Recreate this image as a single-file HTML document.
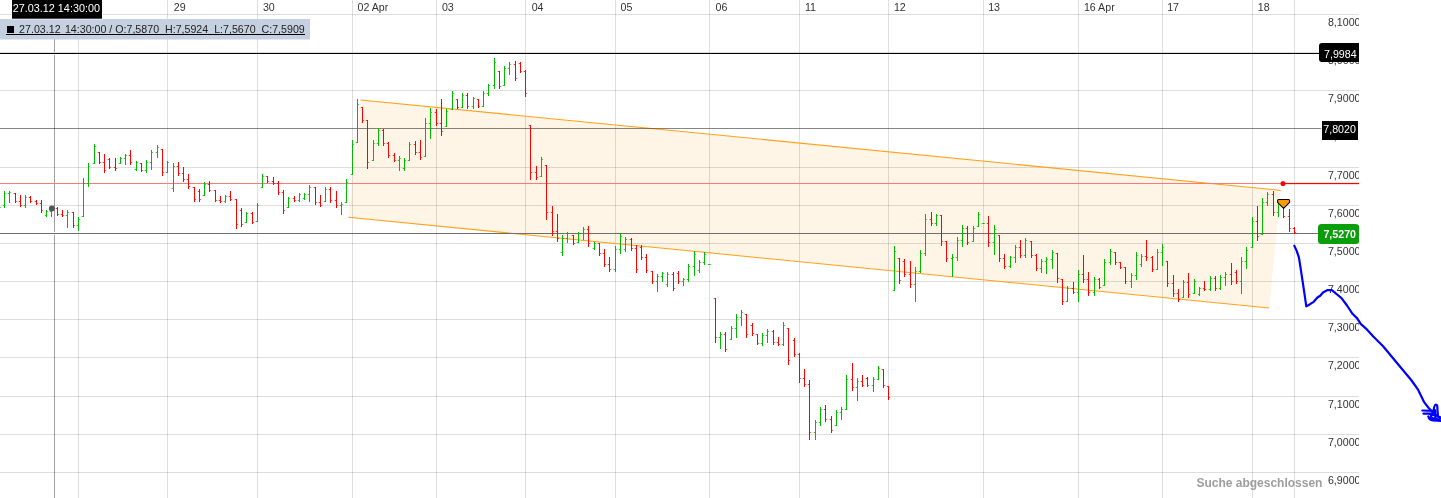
<!DOCTYPE html>
<html><head><meta charset="utf-8"><title>Chart</title>
<style>html,body{margin:0;padding:0;background:#fff;overflow:hidden}svg{display:block;will-change:transform}text{font-family:"Liberation Sans",sans-serif}</style></head><body>
<svg width="1441" height="498" viewBox="0 0 1441 498">
<rect width="1441" height="498" fill="#fff"/>
<defs><clipPath id="c"><rect x="0" y="0" width="1359" height="498"/></clipPath></defs>
<g clip-path="url(#c)">
<polygon points="360.5,99.9 1280.8,190.4 1269.3,308.0 348.4,217.2" fill="#fff5e6"/>
<g shape-rendering="crispEdges" fill="#000" fill-opacity="0.13">
<rect x="0" y="14" width="1359" height="1"/>
<rect x="0" y="52" width="1359" height="1"/>
<rect x="0" y="90" width="1359" height="1"/>
<rect x="0" y="128" width="1359" height="1"/>
<rect x="0" y="167" width="1359" height="1"/>
<rect x="0" y="205" width="1359" height="1"/>
<rect x="0" y="243" width="1359" height="1"/>
<rect x="0" y="281" width="1359" height="1"/>
<rect x="0" y="319" width="1359" height="1"/>
<rect x="0" y="357" width="1359" height="1"/>
<rect x="0" y="396" width="1359" height="1"/>
<rect x="0" y="434" width="1359" height="1"/>
<rect x="0" y="472" width="1359" height="1"/>
<rect x="78" y="0" width="1" height="498"/>
<rect x="167" y="0" width="1" height="498"/>
<rect x="257" y="0" width="1" height="498"/>
<rect x="352" y="0" width="1" height="498"/>
<rect x="436" y="0" width="1" height="498"/>
<rect x="525" y="0" width="1" height="498"/>
<rect x="615" y="0" width="1" height="498"/>
<rect x="709" y="0" width="1" height="498"/>
<rect x="799" y="0" width="1" height="498"/>
<rect x="888" y="0" width="1" height="498"/>
<rect x="983" y="0" width="1" height="498"/>
<rect x="1078" y="0" width="1" height="498"/>
<rect x="1162" y="0" width="1" height="498"/>
<rect x="1252" y="0" width="1" height="498"/>
<rect x="1294" y="0" width="1" height="498"/>
</g>
<line x1="360.5" y1="99.9" x2="1280.8" y2="190.4" stroke="#ffa01a" stroke-width="1.05"/>
<line x1="348.4" y1="217.2" x2="1269.3" y2="308.0" stroke="#ffa01a" stroke-width="1.05"/>
<rect x="54" y="0" width="1" height="52" fill="#000" fill-opacity="0.37" shape-rendering="crispEdges"/>
<rect x="54" y="55" width="1" height="177" fill="#000" fill-opacity="0.37" shape-rendering="crispEdges"/>
<rect x="54" y="235" width="1" height="263" fill="#000" fill-opacity="0.37" shape-rendering="crispEdges"/>
<rect x="0" y="53" width="1320" height="1" fill="#000" shape-rendering="crispEdges"/>
<rect x="0" y="128" width="1321" height="1" fill="#000" fill-opacity="0.4" shape-rendering="crispEdges"/>
<rect x="0" y="183" width="1283" height="1" fill="#ff7878" shape-rendering="crispEdges"/>
<rect x="1283" y="182.9" width="80" height="1.25" fill="#ff0000"/>
<rect x="0" y="233" width="1319" height="1" fill="#6e6e6e" shape-rendering="crispEdges"/>
<g shape-rendering="crispEdges">
<rect x="0" y="207" width="1" height="1" fill="#00ba00" fill-opacity="0.7"/>
<rect x="4" y="191" width="1" height="17" fill="#00ba00"/>
<rect x="3" y="205" width="1" height="1" fill="#00ba00" fill-opacity="0.8"/>
<rect x="2" y="205" width="1" height="1" fill="#00ba00" fill-opacity="0.22"/>
<rect x="5" y="193" width="1" height="1" fill="#00ba00" fill-opacity="0.65"/>
<rect x="6" y="193" width="1" height="1" fill="#00ba00" fill-opacity="0.1"/>
<rect x="9" y="191" width="1" height="12" fill="#00ba00"/>
<rect x="8" y="193" width="1" height="1" fill="#00ba00" fill-opacity="0.8"/>
<rect x="7" y="193" width="1" height="1" fill="#00ba00" fill-opacity="0.22"/>
<rect x="10" y="192" width="1" height="1" fill="#00ba00" fill-opacity="0.65"/>
<rect x="11" y="192" width="1" height="1" fill="#00ba00" fill-opacity="0.1"/>
<rect x="15" y="193" width="1" height="10" fill="#ff0000"/>
<rect x="14" y="193" width="1" height="1" fill="#ff0000" fill-opacity="0.8"/>
<rect x="13" y="193" width="1" height="1" fill="#ff0000" fill-opacity="0.22"/>
<rect x="16" y="201" width="1" height="1" fill="#ff0000" fill-opacity="0.65"/>
<rect x="17" y="201" width="1" height="1" fill="#ff0000" fill-opacity="0.1"/>
<rect x="20" y="195" width="1" height="12" fill="#ff0000"/>
<rect x="19" y="201" width="1" height="1" fill="#ff0000" fill-opacity="0.8"/>
<rect x="18" y="201" width="1" height="1" fill="#ff0000" fill-opacity="0.22"/>
<rect x="21" y="205" width="1" height="1" fill="#ff0000" fill-opacity="0.65"/>
<rect x="22" y="205" width="1" height="1" fill="#ff0000" fill-opacity="0.1"/>
<rect x="25" y="195" width="1" height="13" fill="#00ba00"/>
<rect x="24" y="205" width="1" height="1" fill="#00ba00" fill-opacity="0.8"/>
<rect x="23" y="205" width="1" height="1" fill="#00ba00" fill-opacity="0.22"/>
<rect x="26" y="197" width="1" height="1" fill="#00ba00" fill-opacity="0.65"/>
<rect x="27" y="197" width="1" height="1" fill="#00ba00" fill-opacity="0.1"/>
<rect x="30" y="196" width="1" height="7" fill="#ff0000"/>
<rect x="29" y="197" width="1" height="1" fill="#ff0000" fill-opacity="0.8"/>
<rect x="28" y="197" width="1" height="1" fill="#ff0000" fill-opacity="0.22"/>
<rect x="31" y="201" width="1" height="1" fill="#ff0000" fill-opacity="0.65"/>
<rect x="32" y="201" width="1" height="1" fill="#ff0000" fill-opacity="0.1"/>
<rect x="36" y="200" width="1" height="5" fill="#ff0000"/>
<rect x="35" y="201" width="1" height="1" fill="#ff0000" fill-opacity="0.8"/>
<rect x="34" y="201" width="1" height="1" fill="#ff0000" fill-opacity="0.22"/>
<rect x="37" y="203" width="1" height="1" fill="#ff0000" fill-opacity="0.65"/>
<rect x="38" y="203" width="1" height="1" fill="#ff0000" fill-opacity="0.1"/>
<rect x="41" y="200" width="1" height="13" fill="#ff0000"/>
<rect x="40" y="203" width="1" height="1" fill="#ff0000" fill-opacity="0.8"/>
<rect x="39" y="203" width="1" height="1" fill="#ff0000" fill-opacity="0.22"/>
<rect x="42" y="210" width="1" height="1" fill="#ff0000" fill-opacity="0.65"/>
<rect x="43" y="210" width="1" height="1" fill="#ff0000" fill-opacity="0.1"/>
<rect x="46" y="210" width="1" height="7" fill="#00ba00"/>
<rect x="45" y="215" width="1" height="1" fill="#00ba00" fill-opacity="0.8"/>
<rect x="44" y="215" width="1" height="1" fill="#00ba00" fill-opacity="0.22"/>
<rect x="47" y="211" width="1" height="1" fill="#00ba00" fill-opacity="0.65"/>
<rect x="48" y="211" width="1" height="1" fill="#00ba00" fill-opacity="0.1"/>
<rect x="51" y="207" width="1" height="10" fill="#00ba00"/>
<rect x="50" y="211" width="1" height="1" fill="#00ba00" fill-opacity="0.8"/>
<rect x="49" y="211" width="1" height="1" fill="#00ba00" fill-opacity="0.22"/>
<rect x="52" y="208" width="1" height="1" fill="#00ba00" fill-opacity="0.65"/>
<rect x="53" y="208" width="1" height="1" fill="#00ba00" fill-opacity="0.1"/>
<rect x="57" y="207" width="1" height="9" fill="#ff0000"/>
<rect x="56" y="208" width="1" height="1" fill="#ff0000" fill-opacity="0.8"/>
<rect x="55" y="208" width="1" height="1" fill="#ff0000" fill-opacity="0.22"/>
<rect x="58" y="214" width="1" height="1" fill="#ff0000" fill-opacity="0.65"/>
<rect x="59" y="214" width="1" height="1" fill="#ff0000" fill-opacity="0.1"/>
<rect x="62" y="210" width="1" height="7" fill="#ff0000"/>
<rect x="61" y="214" width="1" height="1" fill="#ff0000" fill-opacity="0.8"/>
<rect x="60" y="214" width="1" height="1" fill="#ff0000" fill-opacity="0.22"/>
<rect x="63" y="215" width="1" height="1" fill="#ff0000" fill-opacity="0.65"/>
<rect x="64" y="215" width="1" height="1" fill="#ff0000" fill-opacity="0.1"/>
<rect x="67" y="210" width="1" height="18" fill="#00ba00"/>
<rect x="66" y="215" width="1" height="1" fill="#00ba00" fill-opacity="0.8"/>
<rect x="65" y="215" width="1" height="1" fill="#00ba00" fill-opacity="0.22"/>
<rect x="68" y="212" width="1" height="1" fill="#00ba00" fill-opacity="0.65"/>
<rect x="69" y="212" width="1" height="1" fill="#00ba00" fill-opacity="0.1"/>
<rect x="73" y="212" width="1" height="16" fill="#ff0000"/>
<rect x="72" y="212" width="1" height="1" fill="#ff0000" fill-opacity="0.8"/>
<rect x="71" y="212" width="1" height="1" fill="#ff0000" fill-opacity="0.22"/>
<rect x="74" y="225" width="1" height="1" fill="#ff0000" fill-opacity="0.65"/>
<rect x="75" y="225" width="1" height="1" fill="#ff0000" fill-opacity="0.1"/>
<rect x="78" y="217" width="1" height="14" fill="#00ba00"/>
<rect x="77" y="225" width="1" height="1" fill="#00ba00" fill-opacity="0.8"/>
<rect x="76" y="225" width="1" height="1" fill="#00ba00" fill-opacity="0.22"/>
<rect x="79" y="219" width="1" height="1" fill="#00ba00" fill-opacity="0.65"/>
<rect x="80" y="219" width="1" height="1" fill="#00ba00" fill-opacity="0.1"/>
<rect x="83" y="178" width="1" height="39" fill="#00ba00"/>
<rect x="82" y="216" width="1" height="1" fill="#00ba00" fill-opacity="0.8"/>
<rect x="81" y="216" width="1" height="1" fill="#00ba00" fill-opacity="0.22"/>
<rect x="84" y="183" width="1" height="1" fill="#00ba00" fill-opacity="0.65"/>
<rect x="85" y="183" width="1" height="1" fill="#00ba00" fill-opacity="0.1"/>
<rect x="88" y="163" width="1" height="24" fill="#00ba00"/>
<rect x="87" y="183" width="1" height="1" fill="#00ba00" fill-opacity="0.8"/>
<rect x="86" y="183" width="1" height="1" fill="#00ba00" fill-opacity="0.22"/>
<rect x="89" y="166" width="1" height="1" fill="#00ba00" fill-opacity="0.65"/>
<rect x="90" y="166" width="1" height="1" fill="#00ba00" fill-opacity="0.1"/>
<rect x="94" y="144" width="1" height="20" fill="#00ba00"/>
<rect x="93" y="163" width="1" height="1" fill="#00ba00" fill-opacity="0.8"/>
<rect x="92" y="163" width="1" height="1" fill="#00ba00" fill-opacity="0.22"/>
<rect x="95" y="146" width="1" height="1" fill="#00ba00" fill-opacity="0.65"/>
<rect x="96" y="146" width="1" height="1" fill="#00ba00" fill-opacity="0.1"/>
<rect x="99" y="152" width="1" height="12" fill="#ff0000"/>
<rect x="98" y="152" width="1" height="1" fill="#ff0000" fill-opacity="0.8"/>
<rect x="97" y="152" width="1" height="1" fill="#ff0000" fill-opacity="0.22"/>
<rect x="100" y="162" width="1" height="1" fill="#ff0000" fill-opacity="0.65"/>
<rect x="101" y="162" width="1" height="1" fill="#ff0000" fill-opacity="0.1"/>
<rect x="104" y="154" width="1" height="19" fill="#ff0000"/>
<rect x="103" y="162" width="1" height="1" fill="#ff0000" fill-opacity="0.8"/>
<rect x="102" y="162" width="1" height="1" fill="#ff0000" fill-opacity="0.22"/>
<rect x="105" y="170" width="1" height="1" fill="#ff0000" fill-opacity="0.65"/>
<rect x="106" y="170" width="1" height="1" fill="#ff0000" fill-opacity="0.1"/>
<rect x="109" y="158" width="1" height="11" fill="#ff0000"/>
<rect x="108" y="159" width="1" height="1" fill="#ff0000" fill-opacity="0.8"/>
<rect x="107" y="159" width="1" height="1" fill="#ff0000" fill-opacity="0.22"/>
<rect x="110" y="167" width="1" height="1" fill="#ff0000" fill-opacity="0.65"/>
<rect x="111" y="167" width="1" height="1" fill="#ff0000" fill-opacity="0.1"/>
<rect x="115" y="158" width="1" height="13" fill="#ff0000"/>
<rect x="114" y="167" width="1" height="1" fill="#ff0000" fill-opacity="0.8"/>
<rect x="113" y="167" width="1" height="1" fill="#ff0000" fill-opacity="0.22"/>
<rect x="116" y="168" width="1" height="1" fill="#ff0000" fill-opacity="0.65"/>
<rect x="117" y="168" width="1" height="1" fill="#ff0000" fill-opacity="0.1"/>
<rect x="120" y="157" width="1" height="7" fill="#00ba00"/>
<rect x="119" y="163" width="1" height="1" fill="#00ba00" fill-opacity="0.8"/>
<rect x="118" y="163" width="1" height="1" fill="#00ba00" fill-opacity="0.22"/>
<rect x="121" y="158" width="1" height="1" fill="#00ba00" fill-opacity="0.65"/>
<rect x="122" y="158" width="1" height="1" fill="#00ba00" fill-opacity="0.1"/>
<rect x="125" y="154" width="1" height="11" fill="#00ba00"/>
<rect x="124" y="158" width="1" height="1" fill="#00ba00" fill-opacity="0.8"/>
<rect x="123" y="158" width="1" height="1" fill="#00ba00" fill-opacity="0.22"/>
<rect x="126" y="155" width="1" height="1" fill="#00ba00" fill-opacity="0.65"/>
<rect x="127" y="155" width="1" height="1" fill="#00ba00" fill-opacity="0.1"/>
<rect x="130" y="150" width="1" height="15" fill="#ff0000"/>
<rect x="129" y="155" width="1" height="1" fill="#ff0000" fill-opacity="0.8"/>
<rect x="128" y="155" width="1" height="1" fill="#ff0000" fill-opacity="0.22"/>
<rect x="131" y="162" width="1" height="1" fill="#ff0000" fill-opacity="0.65"/>
<rect x="132" y="162" width="1" height="1" fill="#ff0000" fill-opacity="0.1"/>
<rect x="136" y="161" width="1" height="10" fill="#00ba00"/>
<rect x="135" y="169" width="1" height="1" fill="#00ba00" fill-opacity="0.8"/>
<rect x="134" y="169" width="1" height="1" fill="#00ba00" fill-opacity="0.22"/>
<rect x="137" y="162" width="1" height="1" fill="#00ba00" fill-opacity="0.65"/>
<rect x="138" y="162" width="1" height="1" fill="#00ba00" fill-opacity="0.1"/>
<rect x="141" y="163" width="1" height="9" fill="#ff0000"/>
<rect x="140" y="163" width="1" height="1" fill="#ff0000" fill-opacity="0.8"/>
<rect x="139" y="163" width="1" height="1" fill="#ff0000" fill-opacity="0.22"/>
<rect x="142" y="170" width="1" height="1" fill="#ff0000" fill-opacity="0.65"/>
<rect x="143" y="170" width="1" height="1" fill="#ff0000" fill-opacity="0.1"/>
<rect x="146" y="160" width="1" height="13" fill="#00ba00"/>
<rect x="145" y="170" width="1" height="1" fill="#00ba00" fill-opacity="0.8"/>
<rect x="144" y="170" width="1" height="1" fill="#00ba00" fill-opacity="0.22"/>
<rect x="147" y="162" width="1" height="1" fill="#00ba00" fill-opacity="0.65"/>
<rect x="148" y="162" width="1" height="1" fill="#00ba00" fill-opacity="0.1"/>
<rect x="151" y="150" width="1" height="20" fill="#00ba00"/>
<rect x="150" y="162" width="1" height="1" fill="#00ba00" fill-opacity="0.8"/>
<rect x="149" y="162" width="1" height="1" fill="#00ba00" fill-opacity="0.22"/>
<rect x="152" y="152" width="1" height="1" fill="#00ba00" fill-opacity="0.65"/>
<rect x="153" y="152" width="1" height="1" fill="#00ba00" fill-opacity="0.1"/>
<rect x="157" y="145" width="1" height="13" fill="#00ba00"/>
<rect x="156" y="152" width="1" height="1" fill="#00ba00" fill-opacity="0.8"/>
<rect x="155" y="152" width="1" height="1" fill="#00ba00" fill-opacity="0.22"/>
<rect x="158" y="147" width="1" height="1" fill="#00ba00" fill-opacity="0.65"/>
<rect x="159" y="147" width="1" height="1" fill="#00ba00" fill-opacity="0.1"/>
<rect x="162" y="149" width="1" height="27" fill="#ff0000"/>
<rect x="161" y="149" width="1" height="1" fill="#ff0000" fill-opacity="0.8"/>
<rect x="160" y="149" width="1" height="1" fill="#ff0000" fill-opacity="0.22"/>
<rect x="163" y="172" width="1" height="1" fill="#ff0000" fill-opacity="0.65"/>
<rect x="164" y="172" width="1" height="1" fill="#ff0000" fill-opacity="0.1"/>
<rect x="167" y="161" width="1" height="12" fill="#00ba00"/>
<rect x="166" y="172" width="1" height="1" fill="#00ba00" fill-opacity="0.8"/>
<rect x="165" y="172" width="1" height="1" fill="#00ba00" fill-opacity="0.22"/>
<rect x="168" y="162" width="1" height="1" fill="#00ba00" fill-opacity="0.65"/>
<rect x="169" y="162" width="1" height="1" fill="#00ba00" fill-opacity="0.1"/>
<rect x="173" y="163" width="1" height="29" fill="#00ba00"/>
<rect x="172" y="188" width="1" height="1" fill="#00ba00" fill-opacity="0.8"/>
<rect x="171" y="188" width="1" height="1" fill="#00ba00" fill-opacity="0.22"/>
<rect x="174" y="166" width="1" height="1" fill="#00ba00" fill-opacity="0.65"/>
<rect x="175" y="166" width="1" height="1" fill="#00ba00" fill-opacity="0.1"/>
<rect x="178" y="162" width="1" height="14" fill="#ff0000"/>
<rect x="177" y="166" width="1" height="1" fill="#ff0000" fill-opacity="0.8"/>
<rect x="176" y="166" width="1" height="1" fill="#ff0000" fill-opacity="0.22"/>
<rect x="179" y="173" width="1" height="1" fill="#ff0000" fill-opacity="0.65"/>
<rect x="180" y="173" width="1" height="1" fill="#ff0000" fill-opacity="0.1"/>
<rect x="183" y="167" width="1" height="15" fill="#ff0000"/>
<rect x="182" y="173" width="1" height="1" fill="#ff0000" fill-opacity="0.8"/>
<rect x="181" y="173" width="1" height="1" fill="#ff0000" fill-opacity="0.22"/>
<rect x="184" y="179" width="1" height="1" fill="#ff0000" fill-opacity="0.65"/>
<rect x="185" y="179" width="1" height="1" fill="#ff0000" fill-opacity="0.1"/>
<rect x="188" y="174" width="1" height="15" fill="#ff0000"/>
<rect x="187" y="179" width="1" height="1" fill="#ff0000" fill-opacity="0.8"/>
<rect x="186" y="179" width="1" height="1" fill="#ff0000" fill-opacity="0.22"/>
<rect x="189" y="186" width="1" height="1" fill="#ff0000" fill-opacity="0.65"/>
<rect x="190" y="186" width="1" height="1" fill="#ff0000" fill-opacity="0.1"/>
<rect x="194" y="187" width="1" height="15" fill="#ff0000"/>
<rect x="193" y="187" width="1" height="1" fill="#ff0000" fill-opacity="0.8"/>
<rect x="192" y="187" width="1" height="1" fill="#ff0000" fill-opacity="0.22"/>
<rect x="195" y="199" width="1" height="1" fill="#ff0000" fill-opacity="0.65"/>
<rect x="196" y="199" width="1" height="1" fill="#ff0000" fill-opacity="0.1"/>
<rect x="199" y="189" width="1" height="13" fill="#ff0000"/>
<rect x="198" y="191" width="1" height="1" fill="#ff0000" fill-opacity="0.8"/>
<rect x="197" y="191" width="1" height="1" fill="#ff0000" fill-opacity="0.22"/>
<rect x="200" y="199" width="1" height="1" fill="#ff0000" fill-opacity="0.65"/>
<rect x="201" y="199" width="1" height="1" fill="#ff0000" fill-opacity="0.1"/>
<rect x="204" y="182" width="1" height="14" fill="#00ba00"/>
<rect x="203" y="195" width="1" height="1" fill="#00ba00" fill-opacity="0.8"/>
<rect x="202" y="195" width="1" height="1" fill="#00ba00" fill-opacity="0.22"/>
<rect x="205" y="184" width="1" height="1" fill="#00ba00" fill-opacity="0.65"/>
<rect x="206" y="184" width="1" height="1" fill="#00ba00" fill-opacity="0.1"/>
<rect x="209" y="181" width="1" height="11" fill="#ff0000"/>
<rect x="208" y="184" width="1" height="1" fill="#ff0000" fill-opacity="0.8"/>
<rect x="207" y="184" width="1" height="1" fill="#ff0000" fill-opacity="0.22"/>
<rect x="210" y="190" width="1" height="1" fill="#ff0000" fill-opacity="0.65"/>
<rect x="211" y="190" width="1" height="1" fill="#ff0000" fill-opacity="0.1"/>
<rect x="215" y="190" width="1" height="12" fill="#ff0000"/>
<rect x="214" y="190" width="1" height="1" fill="#ff0000" fill-opacity="0.8"/>
<rect x="213" y="190" width="1" height="1" fill="#ff0000" fill-opacity="0.22"/>
<rect x="216" y="200" width="1" height="1" fill="#ff0000" fill-opacity="0.65"/>
<rect x="217" y="200" width="1" height="1" fill="#ff0000" fill-opacity="0.1"/>
<rect x="220" y="196" width="1" height="7" fill="#ff0000"/>
<rect x="219" y="200" width="1" height="1" fill="#ff0000" fill-opacity="0.8"/>
<rect x="218" y="200" width="1" height="1" fill="#ff0000" fill-opacity="0.22"/>
<rect x="221" y="201" width="1" height="1" fill="#ff0000" fill-opacity="0.65"/>
<rect x="222" y="201" width="1" height="1" fill="#ff0000" fill-opacity="0.1"/>
<rect x="225" y="195" width="1" height="8" fill="#00ba00"/>
<rect x="224" y="201" width="1" height="1" fill="#00ba00" fill-opacity="0.8"/>
<rect x="223" y="201" width="1" height="1" fill="#00ba00" fill-opacity="0.22"/>
<rect x="226" y="196" width="1" height="1" fill="#00ba00" fill-opacity="0.65"/>
<rect x="227" y="196" width="1" height="1" fill="#00ba00" fill-opacity="0.1"/>
<rect x="230" y="191" width="1" height="10" fill="#ff0000"/>
<rect x="229" y="196" width="1" height="1" fill="#ff0000" fill-opacity="0.8"/>
<rect x="228" y="196" width="1" height="1" fill="#ff0000" fill-opacity="0.22"/>
<rect x="231" y="199" width="1" height="1" fill="#ff0000" fill-opacity="0.65"/>
<rect x="232" y="199" width="1" height="1" fill="#ff0000" fill-opacity="0.1"/>
<rect x="236" y="199" width="1" height="30" fill="#ff0000"/>
<rect x="235" y="199" width="1" height="1" fill="#ff0000" fill-opacity="0.8"/>
<rect x="234" y="199" width="1" height="1" fill="#ff0000" fill-opacity="0.22"/>
<rect x="237" y="224" width="1" height="1" fill="#ff0000" fill-opacity="0.65"/>
<rect x="238" y="224" width="1" height="1" fill="#ff0000" fill-opacity="0.1"/>
<rect x="241" y="208" width="1" height="19" fill="#ff0000"/>
<rect x="240" y="210" width="1" height="1" fill="#ff0000" fill-opacity="0.8"/>
<rect x="239" y="210" width="1" height="1" fill="#ff0000" fill-opacity="0.22"/>
<rect x="242" y="224" width="1" height="1" fill="#ff0000" fill-opacity="0.65"/>
<rect x="243" y="224" width="1" height="1" fill="#ff0000" fill-opacity="0.1"/>
<rect x="246" y="212" width="1" height="11" fill="#00ba00"/>
<rect x="245" y="222" width="1" height="1" fill="#00ba00" fill-opacity="0.8"/>
<rect x="244" y="222" width="1" height="1" fill="#00ba00" fill-opacity="0.22"/>
<rect x="247" y="213" width="1" height="1" fill="#00ba00" fill-opacity="0.65"/>
<rect x="248" y="213" width="1" height="1" fill="#00ba00" fill-opacity="0.1"/>
<rect x="252" y="212" width="1" height="12" fill="#ff0000"/>
<rect x="251" y="213" width="1" height="1" fill="#ff0000" fill-opacity="0.8"/>
<rect x="250" y="213" width="1" height="1" fill="#ff0000" fill-opacity="0.22"/>
<rect x="253" y="222" width="1" height="1" fill="#ff0000" fill-opacity="0.65"/>
<rect x="254" y="222" width="1" height="1" fill="#ff0000" fill-opacity="0.1"/>
<rect x="257" y="203" width="1" height="19" fill="#00ba00"/>
<rect x="256" y="221" width="1" height="1" fill="#00ba00" fill-opacity="0.8"/>
<rect x="255" y="221" width="1" height="1" fill="#00ba00" fill-opacity="0.22"/>
<rect x="258" y="205" width="1" height="1" fill="#00ba00" fill-opacity="0.65"/>
<rect x="259" y="205" width="1" height="1" fill="#00ba00" fill-opacity="0.1"/>
<rect x="262" y="174" width="1" height="14" fill="#00ba00"/>
<rect x="261" y="187" width="1" height="1" fill="#00ba00" fill-opacity="0.8"/>
<rect x="260" y="187" width="1" height="1" fill="#00ba00" fill-opacity="0.22"/>
<rect x="263" y="176" width="1" height="1" fill="#00ba00" fill-opacity="0.65"/>
<rect x="264" y="176" width="1" height="1" fill="#00ba00" fill-opacity="0.1"/>
<rect x="267" y="176" width="1" height="7" fill="#ff0000"/>
<rect x="266" y="176" width="1" height="1" fill="#ff0000" fill-opacity="0.8"/>
<rect x="265" y="176" width="1" height="1" fill="#ff0000" fill-opacity="0.22"/>
<rect x="268" y="181" width="1" height="1" fill="#ff0000" fill-opacity="0.65"/>
<rect x="269" y="181" width="1" height="1" fill="#ff0000" fill-opacity="0.1"/>
<rect x="273" y="177" width="1" height="8" fill="#ff0000"/>
<rect x="272" y="181" width="1" height="1" fill="#ff0000" fill-opacity="0.8"/>
<rect x="271" y="181" width="1" height="1" fill="#ff0000" fill-opacity="0.22"/>
<rect x="274" y="183" width="1" height="1" fill="#ff0000" fill-opacity="0.65"/>
<rect x="275" y="183" width="1" height="1" fill="#ff0000" fill-opacity="0.1"/>
<rect x="278" y="181" width="1" height="14" fill="#ff0000"/>
<rect x="277" y="183" width="1" height="1" fill="#ff0000" fill-opacity="0.8"/>
<rect x="276" y="183" width="1" height="1" fill="#ff0000" fill-opacity="0.22"/>
<rect x="279" y="192" width="1" height="1" fill="#ff0000" fill-opacity="0.65"/>
<rect x="280" y="192" width="1" height="1" fill="#ff0000" fill-opacity="0.1"/>
<rect x="283" y="190" width="1" height="24" fill="#ff0000"/>
<rect x="282" y="192" width="1" height="1" fill="#ff0000" fill-opacity="0.8"/>
<rect x="281" y="192" width="1" height="1" fill="#ff0000" fill-opacity="0.22"/>
<rect x="284" y="210" width="1" height="1" fill="#ff0000" fill-opacity="0.65"/>
<rect x="285" y="210" width="1" height="1" fill="#ff0000" fill-opacity="0.1"/>
<rect x="288" y="197" width="1" height="11" fill="#00ba00"/>
<rect x="287" y="207" width="1" height="1" fill="#00ba00" fill-opacity="0.8"/>
<rect x="286" y="207" width="1" height="1" fill="#00ba00" fill-opacity="0.22"/>
<rect x="289" y="198" width="1" height="1" fill="#00ba00" fill-opacity="0.65"/>
<rect x="290" y="198" width="1" height="1" fill="#00ba00" fill-opacity="0.1"/>
<rect x="294" y="196" width="1" height="6" fill="#ff0000"/>
<rect x="293" y="198" width="1" height="1" fill="#ff0000" fill-opacity="0.8"/>
<rect x="292" y="198" width="1" height="1" fill="#ff0000" fill-opacity="0.22"/>
<rect x="295" y="200" width="1" height="1" fill="#ff0000" fill-opacity="0.65"/>
<rect x="296" y="200" width="1" height="1" fill="#ff0000" fill-opacity="0.1"/>
<rect x="299" y="193" width="1" height="9" fill="#00ba00"/>
<rect x="298" y="200" width="1" height="1" fill="#00ba00" fill-opacity="0.8"/>
<rect x="297" y="200" width="1" height="1" fill="#00ba00" fill-opacity="0.22"/>
<rect x="300" y="194" width="1" height="1" fill="#00ba00" fill-opacity="0.65"/>
<rect x="301" y="194" width="1" height="1" fill="#00ba00" fill-opacity="0.1"/>
<rect x="304" y="193" width="1" height="7" fill="#00ba00"/>
<rect x="303" y="198" width="1" height="1" fill="#00ba00" fill-opacity="0.8"/>
<rect x="302" y="198" width="1" height="1" fill="#00ba00" fill-opacity="0.22"/>
<rect x="305" y="194" width="1" height="1" fill="#00ba00" fill-opacity="0.65"/>
<rect x="306" y="194" width="1" height="1" fill="#00ba00" fill-opacity="0.1"/>
<rect x="309" y="185" width="1" height="17" fill="#00ba00"/>
<rect x="308" y="194" width="1" height="1" fill="#00ba00" fill-opacity="0.8"/>
<rect x="307" y="194" width="1" height="1" fill="#00ba00" fill-opacity="0.22"/>
<rect x="310" y="187" width="1" height="1" fill="#00ba00" fill-opacity="0.65"/>
<rect x="311" y="187" width="1" height="1" fill="#00ba00" fill-opacity="0.1"/>
<rect x="315" y="187" width="1" height="18" fill="#ff0000"/>
<rect x="314" y="187" width="1" height="1" fill="#ff0000" fill-opacity="0.8"/>
<rect x="313" y="187" width="1" height="1" fill="#ff0000" fill-opacity="0.22"/>
<rect x="316" y="202" width="1" height="1" fill="#ff0000" fill-opacity="0.65"/>
<rect x="317" y="202" width="1" height="1" fill="#ff0000" fill-opacity="0.1"/>
<rect x="320" y="195" width="1" height="12" fill="#ff0000"/>
<rect x="319" y="202" width="1" height="1" fill="#ff0000" fill-opacity="0.8"/>
<rect x="318" y="202" width="1" height="1" fill="#ff0000" fill-opacity="0.22"/>
<rect x="321" y="205" width="1" height="1" fill="#ff0000" fill-opacity="0.65"/>
<rect x="322" y="205" width="1" height="1" fill="#ff0000" fill-opacity="0.1"/>
<rect x="325" y="187" width="1" height="15" fill="#00ba00"/>
<rect x="324" y="201" width="1" height="1" fill="#00ba00" fill-opacity="0.8"/>
<rect x="323" y="201" width="1" height="1" fill="#00ba00" fill-opacity="0.22"/>
<rect x="326" y="189" width="1" height="1" fill="#00ba00" fill-opacity="0.65"/>
<rect x="327" y="189" width="1" height="1" fill="#00ba00" fill-opacity="0.1"/>
<rect x="330" y="187" width="1" height="16" fill="#ff0000"/>
<rect x="329" y="189" width="1" height="1" fill="#ff0000" fill-opacity="0.8"/>
<rect x="328" y="189" width="1" height="1" fill="#ff0000" fill-opacity="0.22"/>
<rect x="331" y="200" width="1" height="1" fill="#ff0000" fill-opacity="0.65"/>
<rect x="332" y="200" width="1" height="1" fill="#ff0000" fill-opacity="0.1"/>
<rect x="336" y="191" width="1" height="17" fill="#ff0000"/>
<rect x="335" y="200" width="1" height="1" fill="#ff0000" fill-opacity="0.8"/>
<rect x="334" y="200" width="1" height="1" fill="#ff0000" fill-opacity="0.22"/>
<rect x="337" y="205" width="1" height="1" fill="#ff0000" fill-opacity="0.65"/>
<rect x="338" y="205" width="1" height="1" fill="#ff0000" fill-opacity="0.1"/>
<rect x="341" y="202" width="1" height="13" fill="#00ba00"/>
<rect x="340" y="205" width="1" height="1" fill="#00ba00" fill-opacity="0.8"/>
<rect x="339" y="205" width="1" height="1" fill="#00ba00" fill-opacity="0.22"/>
<rect x="342" y="204" width="1" height="1" fill="#00ba00" fill-opacity="0.65"/>
<rect x="343" y="204" width="1" height="1" fill="#00ba00" fill-opacity="0.1"/>
<rect x="346" y="179" width="1" height="24" fill="#00ba00"/>
<rect x="345" y="202" width="1" height="1" fill="#00ba00" fill-opacity="0.8"/>
<rect x="344" y="202" width="1" height="1" fill="#00ba00" fill-opacity="0.22"/>
<rect x="347" y="182" width="1" height="1" fill="#00ba00" fill-opacity="0.65"/>
<rect x="348" y="182" width="1" height="1" fill="#00ba00" fill-opacity="0.1"/>
<rect x="352" y="140" width="1" height="35" fill="#00ba00"/>
<rect x="351" y="174" width="1" height="1" fill="#00ba00" fill-opacity="0.8"/>
<rect x="350" y="174" width="1" height="1" fill="#00ba00" fill-opacity="0.22"/>
<rect x="353" y="144" width="1" height="1" fill="#00ba00" fill-opacity="0.65"/>
<rect x="354" y="144" width="1" height="1" fill="#00ba00" fill-opacity="0.1"/>
<rect x="357" y="99" width="1" height="44" fill="#00ba00"/>
<rect x="356" y="142" width="1" height="1" fill="#00ba00" fill-opacity="0.8"/>
<rect x="355" y="142" width="1" height="1" fill="#00ba00" fill-opacity="0.22"/>
<rect x="358" y="104" width="1" height="1" fill="#00ba00" fill-opacity="0.65"/>
<rect x="359" y="104" width="1" height="1" fill="#00ba00" fill-opacity="0.1"/>
<rect x="362" y="107" width="1" height="16" fill="#ff0000"/>
<rect x="361" y="107" width="1" height="1" fill="#ff0000" fill-opacity="0.8"/>
<rect x="360" y="107" width="1" height="1" fill="#ff0000" fill-opacity="0.22"/>
<rect x="363" y="120" width="1" height="1" fill="#ff0000" fill-opacity="0.65"/>
<rect x="364" y="120" width="1" height="1" fill="#ff0000" fill-opacity="0.1"/>
<rect x="367" y="120" width="1" height="49" fill="#ff0000"/>
<rect x="366" y="120" width="1" height="1" fill="#ff0000" fill-opacity="0.8"/>
<rect x="365" y="120" width="1" height="1" fill="#ff0000" fill-opacity="0.22"/>
<rect x="368" y="162" width="1" height="1" fill="#ff0000" fill-opacity="0.65"/>
<rect x="369" y="162" width="1" height="1" fill="#ff0000" fill-opacity="0.1"/>
<rect x="373" y="140" width="1" height="21" fill="#00ba00"/>
<rect x="372" y="160" width="1" height="1" fill="#00ba00" fill-opacity="0.8"/>
<rect x="371" y="160" width="1" height="1" fill="#00ba00" fill-opacity="0.22"/>
<rect x="374" y="143" width="1" height="1" fill="#00ba00" fill-opacity="0.65"/>
<rect x="375" y="143" width="1" height="1" fill="#00ba00" fill-opacity="0.1"/>
<rect x="378" y="128" width="1" height="18" fill="#00ba00"/>
<rect x="377" y="143" width="1" height="1" fill="#00ba00" fill-opacity="0.8"/>
<rect x="376" y="143" width="1" height="1" fill="#00ba00" fill-opacity="0.22"/>
<rect x="379" y="130" width="1" height="1" fill="#00ba00" fill-opacity="0.65"/>
<rect x="380" y="130" width="1" height="1" fill="#00ba00" fill-opacity="0.1"/>
<rect x="383" y="129" width="1" height="17" fill="#ff0000"/>
<rect x="382" y="130" width="1" height="1" fill="#ff0000" fill-opacity="0.8"/>
<rect x="381" y="130" width="1" height="1" fill="#ff0000" fill-opacity="0.22"/>
<rect x="384" y="143" width="1" height="1" fill="#ff0000" fill-opacity="0.65"/>
<rect x="385" y="143" width="1" height="1" fill="#ff0000" fill-opacity="0.1"/>
<rect x="388" y="142" width="1" height="16" fill="#ff0000"/>
<rect x="387" y="143" width="1" height="1" fill="#ff0000" fill-opacity="0.8"/>
<rect x="386" y="143" width="1" height="1" fill="#ff0000" fill-opacity="0.22"/>
<rect x="389" y="155" width="1" height="1" fill="#ff0000" fill-opacity="0.65"/>
<rect x="390" y="155" width="1" height="1" fill="#ff0000" fill-opacity="0.1"/>
<rect x="394" y="153" width="1" height="9" fill="#ff0000"/>
<rect x="393" y="155" width="1" height="1" fill="#ff0000" fill-opacity="0.8"/>
<rect x="392" y="155" width="1" height="1" fill="#ff0000" fill-opacity="0.22"/>
<rect x="395" y="160" width="1" height="1" fill="#ff0000" fill-opacity="0.65"/>
<rect x="396" y="160" width="1" height="1" fill="#ff0000" fill-opacity="0.1"/>
<rect x="399" y="156" width="1" height="15" fill="#00ba00"/>
<rect x="398" y="160" width="1" height="1" fill="#00ba00" fill-opacity="0.8"/>
<rect x="397" y="160" width="1" height="1" fill="#00ba00" fill-opacity="0.22"/>
<rect x="400" y="158" width="1" height="1" fill="#00ba00" fill-opacity="0.65"/>
<rect x="401" y="158" width="1" height="1" fill="#00ba00" fill-opacity="0.1"/>
<rect x="404" y="158" width="1" height="13" fill="#00ba00"/>
<rect x="403" y="168" width="1" height="1" fill="#00ba00" fill-opacity="0.8"/>
<rect x="402" y="168" width="1" height="1" fill="#00ba00" fill-opacity="0.22"/>
<rect x="405" y="160" width="1" height="1" fill="#00ba00" fill-opacity="0.65"/>
<rect x="406" y="160" width="1" height="1" fill="#00ba00" fill-opacity="0.1"/>
<rect x="409" y="142" width="1" height="19" fill="#00ba00"/>
<rect x="408" y="160" width="1" height="1" fill="#00ba00" fill-opacity="0.8"/>
<rect x="407" y="160" width="1" height="1" fill="#00ba00" fill-opacity="0.22"/>
<rect x="410" y="144" width="1" height="1" fill="#00ba00" fill-opacity="0.65"/>
<rect x="411" y="144" width="1" height="1" fill="#00ba00" fill-opacity="0.1"/>
<rect x="415" y="141" width="1" height="14" fill="#ff0000"/>
<rect x="414" y="144" width="1" height="1" fill="#ff0000" fill-opacity="0.8"/>
<rect x="413" y="144" width="1" height="1" fill="#ff0000" fill-opacity="0.22"/>
<rect x="416" y="152" width="1" height="1" fill="#ff0000" fill-opacity="0.65"/>
<rect x="417" y="152" width="1" height="1" fill="#ff0000" fill-opacity="0.1"/>
<rect x="420" y="140" width="1" height="20" fill="#ff0000"/>
<rect x="419" y="152" width="1" height="1" fill="#ff0000" fill-opacity="0.8"/>
<rect x="418" y="152" width="1" height="1" fill="#ff0000" fill-opacity="0.22"/>
<rect x="421" y="157" width="1" height="1" fill="#ff0000" fill-opacity="0.65"/>
<rect x="422" y="157" width="1" height="1" fill="#ff0000" fill-opacity="0.1"/>
<rect x="425" y="118" width="1" height="39" fill="#00ba00"/>
<rect x="424" y="156" width="1" height="1" fill="#00ba00" fill-opacity="0.8"/>
<rect x="423" y="156" width="1" height="1" fill="#00ba00" fill-opacity="0.22"/>
<rect x="426" y="123" width="1" height="1" fill="#00ba00" fill-opacity="0.65"/>
<rect x="427" y="123" width="1" height="1" fill="#00ba00" fill-opacity="0.1"/>
<rect x="430" y="108" width="1" height="31" fill="#00ba00"/>
<rect x="429" y="123" width="1" height="1" fill="#00ba00" fill-opacity="0.8"/>
<rect x="428" y="123" width="1" height="1" fill="#00ba00" fill-opacity="0.22"/>
<rect x="431" y="112" width="1" height="1" fill="#00ba00" fill-opacity="0.65"/>
<rect x="432" y="112" width="1" height="1" fill="#00ba00" fill-opacity="0.1"/>
<rect x="436" y="109" width="1" height="17" fill="#ff0000"/>
<rect x="435" y="112" width="1" height="1" fill="#ff0000" fill-opacity="0.8"/>
<rect x="434" y="112" width="1" height="1" fill="#ff0000" fill-opacity="0.22"/>
<rect x="437" y="123" width="1" height="1" fill="#ff0000" fill-opacity="0.65"/>
<rect x="438" y="123" width="1" height="1" fill="#ff0000" fill-opacity="0.1"/>
<rect x="441" y="99" width="1" height="37" fill="#ff0000"/>
<rect x="440" y="123" width="1" height="1" fill="#ff0000" fill-opacity="0.8"/>
<rect x="439" y="123" width="1" height="1" fill="#ff0000" fill-opacity="0.22"/>
<rect x="442" y="131" width="1" height="1" fill="#ff0000" fill-opacity="0.65"/>
<rect x="443" y="131" width="1" height="1" fill="#ff0000" fill-opacity="0.1"/>
<rect x="446" y="109" width="1" height="18" fill="#00ba00"/>
<rect x="445" y="126" width="1" height="1" fill="#00ba00" fill-opacity="0.8"/>
<rect x="444" y="126" width="1" height="1" fill="#00ba00" fill-opacity="0.22"/>
<rect x="447" y="111" width="1" height="1" fill="#00ba00" fill-opacity="0.65"/>
<rect x="448" y="111" width="1" height="1" fill="#00ba00" fill-opacity="0.1"/>
<rect x="452" y="91" width="1" height="19" fill="#00ba00"/>
<rect x="451" y="109" width="1" height="1" fill="#00ba00" fill-opacity="0.8"/>
<rect x="450" y="109" width="1" height="1" fill="#00ba00" fill-opacity="0.22"/>
<rect x="453" y="93" width="1" height="1" fill="#00ba00" fill-opacity="0.65"/>
<rect x="454" y="93" width="1" height="1" fill="#00ba00" fill-opacity="0.1"/>
<rect x="457" y="99" width="1" height="10" fill="#ff0000"/>
<rect x="456" y="99" width="1" height="1" fill="#ff0000" fill-opacity="0.8"/>
<rect x="455" y="99" width="1" height="1" fill="#ff0000" fill-opacity="0.22"/>
<rect x="458" y="107" width="1" height="1" fill="#ff0000" fill-opacity="0.65"/>
<rect x="459" y="107" width="1" height="1" fill="#ff0000" fill-opacity="0.1"/>
<rect x="462" y="93" width="1" height="15" fill="#00ba00"/>
<rect x="461" y="107" width="1" height="1" fill="#00ba00" fill-opacity="0.8"/>
<rect x="460" y="107" width="1" height="1" fill="#00ba00" fill-opacity="0.22"/>
<rect x="463" y="95" width="1" height="1" fill="#00ba00" fill-opacity="0.65"/>
<rect x="464" y="95" width="1" height="1" fill="#00ba00" fill-opacity="0.1"/>
<rect x="467" y="93" width="1" height="16" fill="#ff0000"/>
<rect x="466" y="95" width="1" height="1" fill="#ff0000" fill-opacity="0.8"/>
<rect x="465" y="95" width="1" height="1" fill="#ff0000" fill-opacity="0.22"/>
<rect x="468" y="106" width="1" height="1" fill="#ff0000" fill-opacity="0.65"/>
<rect x="469" y="106" width="1" height="1" fill="#ff0000" fill-opacity="0.1"/>
<rect x="473" y="97" width="1" height="12" fill="#00ba00"/>
<rect x="472" y="106" width="1" height="1" fill="#00ba00" fill-opacity="0.8"/>
<rect x="471" y="106" width="1" height="1" fill="#00ba00" fill-opacity="0.22"/>
<rect x="474" y="98" width="1" height="1" fill="#00ba00" fill-opacity="0.65"/>
<rect x="475" y="98" width="1" height="1" fill="#00ba00" fill-opacity="0.1"/>
<rect x="478" y="99" width="1" height="9" fill="#ff0000"/>
<rect x="477" y="99" width="1" height="1" fill="#ff0000" fill-opacity="0.8"/>
<rect x="476" y="99" width="1" height="1" fill="#ff0000" fill-opacity="0.22"/>
<rect x="479" y="106" width="1" height="1" fill="#ff0000" fill-opacity="0.65"/>
<rect x="480" y="106" width="1" height="1" fill="#ff0000" fill-opacity="0.1"/>
<rect x="483" y="91" width="1" height="16" fill="#00ba00"/>
<rect x="482" y="106" width="1" height="1" fill="#00ba00" fill-opacity="0.8"/>
<rect x="481" y="106" width="1" height="1" fill="#00ba00" fill-opacity="0.22"/>
<rect x="484" y="93" width="1" height="1" fill="#00ba00" fill-opacity="0.65"/>
<rect x="485" y="93" width="1" height="1" fill="#00ba00" fill-opacity="0.1"/>
<rect x="488" y="84" width="1" height="12" fill="#00ba00"/>
<rect x="487" y="93" width="1" height="1" fill="#00ba00" fill-opacity="0.8"/>
<rect x="486" y="93" width="1" height="1" fill="#00ba00" fill-opacity="0.22"/>
<rect x="489" y="85" width="1" height="1" fill="#00ba00" fill-opacity="0.65"/>
<rect x="490" y="85" width="1" height="1" fill="#00ba00" fill-opacity="0.1"/>
<rect x="494" y="58" width="1" height="31" fill="#00ba00"/>
<rect x="493" y="85" width="1" height="1" fill="#00ba00" fill-opacity="0.8"/>
<rect x="492" y="85" width="1" height="1" fill="#00ba00" fill-opacity="0.22"/>
<rect x="495" y="62" width="1" height="1" fill="#00ba00" fill-opacity="0.65"/>
<rect x="496" y="62" width="1" height="1" fill="#00ba00" fill-opacity="0.1"/>
<rect x="499" y="71" width="1" height="18" fill="#ff0000"/>
<rect x="498" y="71" width="1" height="1" fill="#ff0000" fill-opacity="0.8"/>
<rect x="497" y="71" width="1" height="1" fill="#ff0000" fill-opacity="0.22"/>
<rect x="500" y="86" width="1" height="1" fill="#ff0000" fill-opacity="0.65"/>
<rect x="501" y="86" width="1" height="1" fill="#ff0000" fill-opacity="0.1"/>
<rect x="504" y="66" width="1" height="20" fill="#00ba00"/>
<rect x="503" y="85" width="1" height="1" fill="#00ba00" fill-opacity="0.8"/>
<rect x="502" y="85" width="1" height="1" fill="#00ba00" fill-opacity="0.22"/>
<rect x="505" y="68" width="1" height="1" fill="#00ba00" fill-opacity="0.65"/>
<rect x="506" y="68" width="1" height="1" fill="#00ba00" fill-opacity="0.1"/>
<rect x="509" y="62" width="1" height="13" fill="#00ba00"/>
<rect x="508" y="68" width="1" height="1" fill="#00ba00" fill-opacity="0.8"/>
<rect x="507" y="68" width="1" height="1" fill="#00ba00" fill-opacity="0.22"/>
<rect x="510" y="64" width="1" height="1" fill="#00ba00" fill-opacity="0.65"/>
<rect x="511" y="64" width="1" height="1" fill="#00ba00" fill-opacity="0.1"/>
<rect x="515" y="61" width="1" height="20" fill="#ff0000"/>
<rect x="514" y="64" width="1" height="1" fill="#ff0000" fill-opacity="0.8"/>
<rect x="513" y="64" width="1" height="1" fill="#ff0000" fill-opacity="0.22"/>
<rect x="516" y="78" width="1" height="1" fill="#ff0000" fill-opacity="0.65"/>
<rect x="517" y="78" width="1" height="1" fill="#ff0000" fill-opacity="0.1"/>
<rect x="520" y="62" width="1" height="11" fill="#ff0000"/>
<rect x="519" y="63" width="1" height="1" fill="#ff0000" fill-opacity="0.8"/>
<rect x="518" y="63" width="1" height="1" fill="#ff0000" fill-opacity="0.22"/>
<rect x="521" y="71" width="1" height="1" fill="#ff0000" fill-opacity="0.65"/>
<rect x="522" y="71" width="1" height="1" fill="#ff0000" fill-opacity="0.1"/>
<rect x="525" y="70" width="1" height="27" fill="#ff0000"/>
<rect x="524" y="71" width="1" height="1" fill="#ff0000" fill-opacity="0.8"/>
<rect x="523" y="71" width="1" height="1" fill="#ff0000" fill-opacity="0.22"/>
<rect x="526" y="93" width="1" height="1" fill="#ff0000" fill-opacity="0.65"/>
<rect x="527" y="93" width="1" height="1" fill="#ff0000" fill-opacity="0.1"/>
<rect x="530" y="125" width="1" height="55" fill="#ff0000"/>
<rect x="529" y="125" width="1" height="1" fill="#ff0000" fill-opacity="0.8"/>
<rect x="528" y="125" width="1" height="1" fill="#ff0000" fill-opacity="0.22"/>
<rect x="531" y="172" width="1" height="1" fill="#ff0000" fill-opacity="0.65"/>
<rect x="532" y="172" width="1" height="1" fill="#ff0000" fill-opacity="0.1"/>
<rect x="536" y="166" width="1" height="14" fill="#ff0000"/>
<rect x="535" y="172" width="1" height="1" fill="#ff0000" fill-opacity="0.8"/>
<rect x="534" y="172" width="1" height="1" fill="#ff0000" fill-opacity="0.22"/>
<rect x="537" y="177" width="1" height="1" fill="#ff0000" fill-opacity="0.65"/>
<rect x="538" y="177" width="1" height="1" fill="#ff0000" fill-opacity="0.1"/>
<rect x="541" y="157" width="1" height="20" fill="#00ba00"/>
<rect x="540" y="176" width="1" height="1" fill="#00ba00" fill-opacity="0.8"/>
<rect x="539" y="176" width="1" height="1" fill="#00ba00" fill-opacity="0.22"/>
<rect x="542" y="159" width="1" height="1" fill="#00ba00" fill-opacity="0.65"/>
<rect x="543" y="159" width="1" height="1" fill="#00ba00" fill-opacity="0.1"/>
<rect x="546" y="165" width="1" height="55" fill="#ff0000"/>
<rect x="545" y="165" width="1" height="1" fill="#ff0000" fill-opacity="0.8"/>
<rect x="544" y="165" width="1" height="1" fill="#ff0000" fill-opacity="0.22"/>
<rect x="547" y="212" width="1" height="1" fill="#ff0000" fill-opacity="0.65"/>
<rect x="548" y="212" width="1" height="1" fill="#ff0000" fill-opacity="0.1"/>
<rect x="552" y="206" width="1" height="30" fill="#ff0000"/>
<rect x="551" y="212" width="1" height="1" fill="#ff0000" fill-opacity="0.8"/>
<rect x="550" y="212" width="1" height="1" fill="#ff0000" fill-opacity="0.22"/>
<rect x="553" y="231" width="1" height="1" fill="#ff0000" fill-opacity="0.65"/>
<rect x="554" y="231" width="1" height="1" fill="#ff0000" fill-opacity="0.1"/>
<rect x="557" y="214" width="1" height="28" fill="#ff0000"/>
<rect x="556" y="231" width="1" height="1" fill="#ff0000" fill-opacity="0.8"/>
<rect x="555" y="231" width="1" height="1" fill="#ff0000" fill-opacity="0.22"/>
<rect x="558" y="238" width="1" height="1" fill="#ff0000" fill-opacity="0.65"/>
<rect x="559" y="238" width="1" height="1" fill="#ff0000" fill-opacity="0.1"/>
<rect x="562" y="235" width="1" height="21" fill="#00ba00"/>
<rect x="561" y="252" width="1" height="1" fill="#00ba00" fill-opacity="0.8"/>
<rect x="560" y="252" width="1" height="1" fill="#00ba00" fill-opacity="0.22"/>
<rect x="563" y="238" width="1" height="1" fill="#00ba00" fill-opacity="0.65"/>
<rect x="564" y="238" width="1" height="1" fill="#00ba00" fill-opacity="0.1"/>
<rect x="567" y="232" width="1" height="11" fill="#00ba00"/>
<rect x="566" y="238" width="1" height="1" fill="#00ba00" fill-opacity="0.8"/>
<rect x="565" y="238" width="1" height="1" fill="#00ba00" fill-opacity="0.22"/>
<rect x="568" y="233" width="1" height="1" fill="#00ba00" fill-opacity="0.65"/>
<rect x="569" y="233" width="1" height="1" fill="#00ba00" fill-opacity="0.1"/>
<rect x="573" y="235" width="1" height="10" fill="#ff0000"/>
<rect x="572" y="235" width="1" height="1" fill="#ff0000" fill-opacity="0.8"/>
<rect x="571" y="235" width="1" height="1" fill="#ff0000" fill-opacity="0.22"/>
<rect x="574" y="243" width="1" height="1" fill="#ff0000" fill-opacity="0.65"/>
<rect x="575" y="243" width="1" height="1" fill="#ff0000" fill-opacity="0.1"/>
<rect x="578" y="232" width="1" height="11" fill="#00ba00"/>
<rect x="577" y="242" width="1" height="1" fill="#00ba00" fill-opacity="0.8"/>
<rect x="576" y="242" width="1" height="1" fill="#00ba00" fill-opacity="0.22"/>
<rect x="579" y="233" width="1" height="1" fill="#00ba00" fill-opacity="0.65"/>
<rect x="580" y="233" width="1" height="1" fill="#00ba00" fill-opacity="0.1"/>
<rect x="583" y="227" width="1" height="13" fill="#00ba00"/>
<rect x="582" y="233" width="1" height="1" fill="#00ba00" fill-opacity="0.8"/>
<rect x="581" y="233" width="1" height="1" fill="#00ba00" fill-opacity="0.22"/>
<rect x="584" y="229" width="1" height="1" fill="#00ba00" fill-opacity="0.65"/>
<rect x="585" y="229" width="1" height="1" fill="#00ba00" fill-opacity="0.1"/>
<rect x="588" y="226" width="1" height="21" fill="#ff0000"/>
<rect x="587" y="229" width="1" height="1" fill="#ff0000" fill-opacity="0.8"/>
<rect x="586" y="229" width="1" height="1" fill="#ff0000" fill-opacity="0.22"/>
<rect x="589" y="243" width="1" height="1" fill="#ff0000" fill-opacity="0.65"/>
<rect x="590" y="243" width="1" height="1" fill="#ff0000" fill-opacity="0.1"/>
<rect x="594" y="242" width="1" height="8" fill="#00ba00"/>
<rect x="593" y="248" width="1" height="1" fill="#00ba00" fill-opacity="0.8"/>
<rect x="592" y="248" width="1" height="1" fill="#00ba00" fill-opacity="0.22"/>
<rect x="595" y="243" width="1" height="1" fill="#00ba00" fill-opacity="0.65"/>
<rect x="596" y="243" width="1" height="1" fill="#00ba00" fill-opacity="0.1"/>
<rect x="599" y="243" width="1" height="13" fill="#ff0000"/>
<rect x="598" y="243" width="1" height="1" fill="#ff0000" fill-opacity="0.8"/>
<rect x="597" y="243" width="1" height="1" fill="#ff0000" fill-opacity="0.22"/>
<rect x="600" y="253" width="1" height="1" fill="#ff0000" fill-opacity="0.65"/>
<rect x="601" y="253" width="1" height="1" fill="#ff0000" fill-opacity="0.1"/>
<rect x="604" y="249" width="1" height="18" fill="#ff0000"/>
<rect x="603" y="253" width="1" height="1" fill="#ff0000" fill-opacity="0.8"/>
<rect x="602" y="253" width="1" height="1" fill="#ff0000" fill-opacity="0.22"/>
<rect x="605" y="264" width="1" height="1" fill="#ff0000" fill-opacity="0.65"/>
<rect x="606" y="264" width="1" height="1" fill="#ff0000" fill-opacity="0.1"/>
<rect x="609" y="257" width="1" height="15" fill="#ff0000"/>
<rect x="608" y="264" width="1" height="1" fill="#ff0000" fill-opacity="0.8"/>
<rect x="607" y="264" width="1" height="1" fill="#ff0000" fill-opacity="0.22"/>
<rect x="610" y="269" width="1" height="1" fill="#ff0000" fill-opacity="0.65"/>
<rect x="611" y="269" width="1" height="1" fill="#ff0000" fill-opacity="0.1"/>
<rect x="615" y="246" width="1" height="26" fill="#00ba00"/>
<rect x="614" y="269" width="1" height="1" fill="#00ba00" fill-opacity="0.8"/>
<rect x="613" y="269" width="1" height="1" fill="#00ba00" fill-opacity="0.22"/>
<rect x="616" y="249" width="1" height="1" fill="#00ba00" fill-opacity="0.65"/>
<rect x="617" y="249" width="1" height="1" fill="#00ba00" fill-opacity="0.1"/>
<rect x="620" y="233" width="1" height="21" fill="#00ba00"/>
<rect x="619" y="249" width="1" height="1" fill="#00ba00" fill-opacity="0.8"/>
<rect x="618" y="249" width="1" height="1" fill="#00ba00" fill-opacity="0.22"/>
<rect x="621" y="236" width="1" height="1" fill="#00ba00" fill-opacity="0.65"/>
<rect x="622" y="236" width="1" height="1" fill="#00ba00" fill-opacity="0.1"/>
<rect x="625" y="237" width="1" height="15" fill="#00ba00"/>
<rect x="624" y="249" width="1" height="1" fill="#00ba00" fill-opacity="0.8"/>
<rect x="623" y="249" width="1" height="1" fill="#00ba00" fill-opacity="0.22"/>
<rect x="626" y="239" width="1" height="1" fill="#00ba00" fill-opacity="0.65"/>
<rect x="627" y="239" width="1" height="1" fill="#00ba00" fill-opacity="0.1"/>
<rect x="631" y="238" width="1" height="13" fill="#ff0000"/>
<rect x="630" y="239" width="1" height="1" fill="#ff0000" fill-opacity="0.8"/>
<rect x="629" y="239" width="1" height="1" fill="#ff0000" fill-opacity="0.22"/>
<rect x="632" y="248" width="1" height="1" fill="#ff0000" fill-opacity="0.65"/>
<rect x="633" y="248" width="1" height="1" fill="#ff0000" fill-opacity="0.1"/>
<rect x="636" y="245" width="1" height="28" fill="#ff0000"/>
<rect x="635" y="248" width="1" height="1" fill="#ff0000" fill-opacity="0.8"/>
<rect x="634" y="248" width="1" height="1" fill="#ff0000" fill-opacity="0.22"/>
<rect x="637" y="269" width="1" height="1" fill="#ff0000" fill-opacity="0.65"/>
<rect x="638" y="269" width="1" height="1" fill="#ff0000" fill-opacity="0.1"/>
<rect x="641" y="245" width="1" height="15" fill="#ff0000"/>
<rect x="640" y="247" width="1" height="1" fill="#ff0000" fill-opacity="0.8"/>
<rect x="639" y="247" width="1" height="1" fill="#ff0000" fill-opacity="0.22"/>
<rect x="642" y="257" width="1" height="1" fill="#ff0000" fill-opacity="0.65"/>
<rect x="643" y="257" width="1" height="1" fill="#ff0000" fill-opacity="0.1"/>
<rect x="646" y="254" width="1" height="19" fill="#ff0000"/>
<rect x="645" y="257" width="1" height="1" fill="#ff0000" fill-opacity="0.8"/>
<rect x="644" y="257" width="1" height="1" fill="#ff0000" fill-opacity="0.22"/>
<rect x="647" y="270" width="1" height="1" fill="#ff0000" fill-opacity="0.65"/>
<rect x="648" y="270" width="1" height="1" fill="#ff0000" fill-opacity="0.1"/>
<rect x="652" y="271" width="1" height="13" fill="#ff0000"/>
<rect x="651" y="271" width="1" height="1" fill="#ff0000" fill-opacity="0.8"/>
<rect x="650" y="271" width="1" height="1" fill="#ff0000" fill-opacity="0.22"/>
<rect x="653" y="281" width="1" height="1" fill="#ff0000" fill-opacity="0.65"/>
<rect x="654" y="281" width="1" height="1" fill="#ff0000" fill-opacity="0.1"/>
<rect x="657" y="274" width="1" height="18" fill="#00ba00"/>
<rect x="656" y="281" width="1" height="1" fill="#00ba00" fill-opacity="0.8"/>
<rect x="655" y="281" width="1" height="1" fill="#00ba00" fill-opacity="0.22"/>
<rect x="658" y="276" width="1" height="1" fill="#00ba00" fill-opacity="0.65"/>
<rect x="659" y="276" width="1" height="1" fill="#00ba00" fill-opacity="0.1"/>
<rect x="662" y="272" width="1" height="10" fill="#00ba00"/>
<rect x="661" y="276" width="1" height="1" fill="#00ba00" fill-opacity="0.8"/>
<rect x="660" y="276" width="1" height="1" fill="#00ba00" fill-opacity="0.22"/>
<rect x="663" y="273" width="1" height="1" fill="#00ba00" fill-opacity="0.65"/>
<rect x="664" y="273" width="1" height="1" fill="#00ba00" fill-opacity="0.1"/>
<rect x="667" y="272" width="1" height="15" fill="#00ba00"/>
<rect x="666" y="284" width="1" height="1" fill="#00ba00" fill-opacity="0.8"/>
<rect x="665" y="284" width="1" height="1" fill="#00ba00" fill-opacity="0.22"/>
<rect x="668" y="274" width="1" height="1" fill="#00ba00" fill-opacity="0.65"/>
<rect x="669" y="274" width="1" height="1" fill="#00ba00" fill-opacity="0.1"/>
<rect x="673" y="272" width="1" height="19" fill="#ff0000"/>
<rect x="672" y="274" width="1" height="1" fill="#ff0000" fill-opacity="0.8"/>
<rect x="671" y="274" width="1" height="1" fill="#ff0000" fill-opacity="0.22"/>
<rect x="674" y="288" width="1" height="1" fill="#ff0000" fill-opacity="0.65"/>
<rect x="675" y="288" width="1" height="1" fill="#ff0000" fill-opacity="0.1"/>
<rect x="678" y="271" width="1" height="13" fill="#ff0000"/>
<rect x="677" y="273" width="1" height="1" fill="#ff0000" fill-opacity="0.8"/>
<rect x="676" y="273" width="1" height="1" fill="#ff0000" fill-opacity="0.22"/>
<rect x="679" y="281" width="1" height="1" fill="#ff0000" fill-opacity="0.65"/>
<rect x="680" y="281" width="1" height="1" fill="#ff0000" fill-opacity="0.1"/>
<rect x="683" y="278" width="1" height="8" fill="#00ba00"/>
<rect x="682" y="281" width="1" height="1" fill="#00ba00" fill-opacity="0.8"/>
<rect x="681" y="281" width="1" height="1" fill="#00ba00" fill-opacity="0.22"/>
<rect x="684" y="279" width="1" height="1" fill="#00ba00" fill-opacity="0.65"/>
<rect x="685" y="279" width="1" height="1" fill="#00ba00" fill-opacity="0.1"/>
<rect x="688" y="264" width="1" height="18" fill="#00ba00"/>
<rect x="687" y="279" width="1" height="1" fill="#00ba00" fill-opacity="0.8"/>
<rect x="686" y="279" width="1" height="1" fill="#00ba00" fill-opacity="0.22"/>
<rect x="689" y="266" width="1" height="1" fill="#00ba00" fill-opacity="0.65"/>
<rect x="690" y="266" width="1" height="1" fill="#00ba00" fill-opacity="0.1"/>
<rect x="694" y="251" width="1" height="25" fill="#00ba00"/>
<rect x="693" y="266" width="1" height="1" fill="#00ba00" fill-opacity="0.8"/>
<rect x="692" y="266" width="1" height="1" fill="#00ba00" fill-opacity="0.22"/>
<rect x="695" y="254" width="1" height="1" fill="#00ba00" fill-opacity="0.65"/>
<rect x="696" y="254" width="1" height="1" fill="#00ba00" fill-opacity="0.1"/>
<rect x="699" y="260" width="1" height="13" fill="#00ba00"/>
<rect x="698" y="270" width="1" height="1" fill="#00ba00" fill-opacity="0.8"/>
<rect x="697" y="270" width="1" height="1" fill="#00ba00" fill-opacity="0.22"/>
<rect x="700" y="262" width="1" height="1" fill="#00ba00" fill-opacity="0.65"/>
<rect x="701" y="262" width="1" height="1" fill="#00ba00" fill-opacity="0.1"/>
<rect x="704" y="252" width="1" height="13" fill="#00ba00"/>
<rect x="703" y="262" width="1" height="1" fill="#00ba00" fill-opacity="0.8"/>
<rect x="702" y="262" width="1" height="1" fill="#00ba00" fill-opacity="0.22"/>
<rect x="705" y="254" width="1" height="1" fill="#00ba00" fill-opacity="0.65"/>
<rect x="706" y="254" width="1" height="1" fill="#00ba00" fill-opacity="0.1"/>
<rect x="709" y="264" width="1" height="1" fill="#00ba00"/>
<rect x="708" y="264" width="1" height="1" fill="#00ba00" fill-opacity="0.8"/>
<rect x="707" y="264" width="1" height="1" fill="#00ba00" fill-opacity="0.22"/>
<rect x="710" y="264" width="1" height="1" fill="#00ba00" fill-opacity="0.65"/>
<rect x="711" y="264" width="1" height="1" fill="#00ba00" fill-opacity="0.1"/>
<rect x="715" y="298" width="1" height="45" fill="#ff0000"/>
<rect x="714" y="298" width="1" height="1" fill="#ff0000" fill-opacity="0.8"/>
<rect x="713" y="298" width="1" height="1" fill="#ff0000" fill-opacity="0.22"/>
<rect x="716" y="337" width="1" height="1" fill="#ff0000" fill-opacity="0.65"/>
<rect x="717" y="337" width="1" height="1" fill="#ff0000" fill-opacity="0.1"/>
<rect x="720" y="332" width="1" height="17" fill="#00ba00"/>
<rect x="719" y="337" width="1" height="1" fill="#00ba00" fill-opacity="0.8"/>
<rect x="718" y="337" width="1" height="1" fill="#00ba00" fill-opacity="0.22"/>
<rect x="721" y="334" width="1" height="1" fill="#00ba00" fill-opacity="0.65"/>
<rect x="722" y="334" width="1" height="1" fill="#00ba00" fill-opacity="0.1"/>
<rect x="725" y="332" width="1" height="20" fill="#ff0000"/>
<rect x="724" y="334" width="1" height="1" fill="#ff0000" fill-opacity="0.8"/>
<rect x="723" y="334" width="1" height="1" fill="#ff0000" fill-opacity="0.22"/>
<rect x="726" y="349" width="1" height="1" fill="#ff0000" fill-opacity="0.65"/>
<rect x="727" y="349" width="1" height="1" fill="#ff0000" fill-opacity="0.1"/>
<rect x="731" y="326" width="1" height="14" fill="#00ba00"/>
<rect x="730" y="339" width="1" height="1" fill="#00ba00" fill-opacity="0.8"/>
<rect x="729" y="339" width="1" height="1" fill="#00ba00" fill-opacity="0.22"/>
<rect x="732" y="328" width="1" height="1" fill="#00ba00" fill-opacity="0.65"/>
<rect x="733" y="328" width="1" height="1" fill="#00ba00" fill-opacity="0.1"/>
<rect x="736" y="314" width="1" height="24" fill="#00ba00"/>
<rect x="735" y="328" width="1" height="1" fill="#00ba00" fill-opacity="0.8"/>
<rect x="734" y="328" width="1" height="1" fill="#00ba00" fill-opacity="0.22"/>
<rect x="737" y="317" width="1" height="1" fill="#00ba00" fill-opacity="0.65"/>
<rect x="738" y="317" width="1" height="1" fill="#00ba00" fill-opacity="0.1"/>
<rect x="741" y="310" width="1" height="16" fill="#00ba00"/>
<rect x="740" y="317" width="1" height="1" fill="#00ba00" fill-opacity="0.8"/>
<rect x="739" y="317" width="1" height="1" fill="#00ba00" fill-opacity="0.22"/>
<rect x="742" y="312" width="1" height="1" fill="#00ba00" fill-opacity="0.65"/>
<rect x="743" y="312" width="1" height="1" fill="#00ba00" fill-opacity="0.1"/>
<rect x="746" y="314" width="1" height="24" fill="#ff0000"/>
<rect x="745" y="314" width="1" height="1" fill="#ff0000" fill-opacity="0.8"/>
<rect x="744" y="314" width="1" height="1" fill="#ff0000" fill-opacity="0.22"/>
<rect x="747" y="334" width="1" height="1" fill="#ff0000" fill-opacity="0.65"/>
<rect x="748" y="334" width="1" height="1" fill="#ff0000" fill-opacity="0.1"/>
<rect x="752" y="323" width="1" height="13" fill="#ff0000"/>
<rect x="751" y="325" width="1" height="1" fill="#ff0000" fill-opacity="0.8"/>
<rect x="750" y="325" width="1" height="1" fill="#ff0000" fill-opacity="0.22"/>
<rect x="753" y="333" width="1" height="1" fill="#ff0000" fill-opacity="0.65"/>
<rect x="754" y="333" width="1" height="1" fill="#ff0000" fill-opacity="0.1"/>
<rect x="757" y="334" width="1" height="11" fill="#ff0000"/>
<rect x="756" y="334" width="1" height="1" fill="#ff0000" fill-opacity="0.8"/>
<rect x="755" y="334" width="1" height="1" fill="#ff0000" fill-opacity="0.22"/>
<rect x="758" y="343" width="1" height="1" fill="#ff0000" fill-opacity="0.65"/>
<rect x="759" y="343" width="1" height="1" fill="#ff0000" fill-opacity="0.1"/>
<rect x="762" y="333" width="1" height="13" fill="#00ba00"/>
<rect x="761" y="343" width="1" height="1" fill="#00ba00" fill-opacity="0.8"/>
<rect x="760" y="343" width="1" height="1" fill="#00ba00" fill-opacity="0.22"/>
<rect x="763" y="335" width="1" height="1" fill="#00ba00" fill-opacity="0.65"/>
<rect x="764" y="335" width="1" height="1" fill="#00ba00" fill-opacity="0.1"/>
<rect x="767" y="329" width="1" height="14" fill="#00ba00"/>
<rect x="766" y="335" width="1" height="1" fill="#00ba00" fill-opacity="0.8"/>
<rect x="765" y="335" width="1" height="1" fill="#00ba00" fill-opacity="0.22"/>
<rect x="768" y="331" width="1" height="1" fill="#00ba00" fill-opacity="0.65"/>
<rect x="769" y="331" width="1" height="1" fill="#00ba00" fill-opacity="0.1"/>
<rect x="773" y="330" width="1" height="15" fill="#ff0000"/>
<rect x="772" y="331" width="1" height="1" fill="#ff0000" fill-opacity="0.8"/>
<rect x="771" y="331" width="1" height="1" fill="#ff0000" fill-opacity="0.22"/>
<rect x="774" y="342" width="1" height="1" fill="#ff0000" fill-opacity="0.65"/>
<rect x="775" y="342" width="1" height="1" fill="#ff0000" fill-opacity="0.1"/>
<rect x="778" y="337" width="1" height="9" fill="#ff0000"/>
<rect x="777" y="342" width="1" height="1" fill="#ff0000" fill-opacity="0.8"/>
<rect x="776" y="342" width="1" height="1" fill="#ff0000" fill-opacity="0.22"/>
<rect x="779" y="344" width="1" height="1" fill="#ff0000" fill-opacity="0.65"/>
<rect x="780" y="344" width="1" height="1" fill="#ff0000" fill-opacity="0.1"/>
<rect x="783" y="322" width="1" height="24" fill="#00ba00"/>
<rect x="782" y="344" width="1" height="1" fill="#00ba00" fill-opacity="0.8"/>
<rect x="781" y="344" width="1" height="1" fill="#00ba00" fill-opacity="0.22"/>
<rect x="784" y="325" width="1" height="1" fill="#00ba00" fill-opacity="0.65"/>
<rect x="785" y="325" width="1" height="1" fill="#00ba00" fill-opacity="0.1"/>
<rect x="788" y="328" width="1" height="37" fill="#ff0000"/>
<rect x="787" y="328" width="1" height="1" fill="#ff0000" fill-opacity="0.8"/>
<rect x="786" y="328" width="1" height="1" fill="#ff0000" fill-opacity="0.22"/>
<rect x="789" y="360" width="1" height="1" fill="#ff0000" fill-opacity="0.65"/>
<rect x="790" y="360" width="1" height="1" fill="#ff0000" fill-opacity="0.1"/>
<rect x="794" y="338" width="1" height="19" fill="#ff0000"/>
<rect x="793" y="340" width="1" height="1" fill="#ff0000" fill-opacity="0.8"/>
<rect x="792" y="340" width="1" height="1" fill="#ff0000" fill-opacity="0.22"/>
<rect x="795" y="354" width="1" height="1" fill="#ff0000" fill-opacity="0.65"/>
<rect x="796" y="354" width="1" height="1" fill="#ff0000" fill-opacity="0.1"/>
<rect x="799" y="353" width="1" height="30" fill="#ff0000"/>
<rect x="798" y="354" width="1" height="1" fill="#ff0000" fill-opacity="0.8"/>
<rect x="797" y="354" width="1" height="1" fill="#ff0000" fill-opacity="0.22"/>
<rect x="800" y="378" width="1" height="1" fill="#ff0000" fill-opacity="0.65"/>
<rect x="801" y="378" width="1" height="1" fill="#ff0000" fill-opacity="0.1"/>
<rect x="804" y="369" width="1" height="18" fill="#ff0000"/>
<rect x="803" y="378" width="1" height="1" fill="#ff0000" fill-opacity="0.8"/>
<rect x="802" y="378" width="1" height="1" fill="#ff0000" fill-opacity="0.22"/>
<rect x="805" y="384" width="1" height="1" fill="#ff0000" fill-opacity="0.65"/>
<rect x="806" y="384" width="1" height="1" fill="#ff0000" fill-opacity="0.1"/>
<rect x="809" y="380" width="1" height="60" fill="#ff0000"/>
<rect x="808" y="384" width="1" height="1" fill="#ff0000" fill-opacity="0.8"/>
<rect x="807" y="384" width="1" height="1" fill="#ff0000" fill-opacity="0.22"/>
<rect x="810" y="432" width="1" height="1" fill="#ff0000" fill-opacity="0.65"/>
<rect x="811" y="432" width="1" height="1" fill="#ff0000" fill-opacity="0.1"/>
<rect x="815" y="420" width="1" height="20" fill="#00ba00"/>
<rect x="814" y="432" width="1" height="1" fill="#00ba00" fill-opacity="0.8"/>
<rect x="813" y="432" width="1" height="1" fill="#00ba00" fill-opacity="0.22"/>
<rect x="816" y="422" width="1" height="1" fill="#00ba00" fill-opacity="0.65"/>
<rect x="817" y="422" width="1" height="1" fill="#00ba00" fill-opacity="0.1"/>
<rect x="820" y="407" width="1" height="19" fill="#00ba00"/>
<rect x="819" y="422" width="1" height="1" fill="#00ba00" fill-opacity="0.8"/>
<rect x="818" y="422" width="1" height="1" fill="#00ba00" fill-opacity="0.22"/>
<rect x="821" y="409" width="1" height="1" fill="#00ba00" fill-opacity="0.65"/>
<rect x="822" y="409" width="1" height="1" fill="#00ba00" fill-opacity="0.1"/>
<rect x="825" y="405" width="1" height="17" fill="#ff0000"/>
<rect x="824" y="409" width="1" height="1" fill="#ff0000" fill-opacity="0.8"/>
<rect x="823" y="409" width="1" height="1" fill="#ff0000" fill-opacity="0.22"/>
<rect x="826" y="419" width="1" height="1" fill="#ff0000" fill-opacity="0.65"/>
<rect x="827" y="419" width="1" height="1" fill="#ff0000" fill-opacity="0.1"/>
<rect x="831" y="416" width="1" height="17" fill="#ff0000"/>
<rect x="830" y="419" width="1" height="1" fill="#ff0000" fill-opacity="0.8"/>
<rect x="829" y="419" width="1" height="1" fill="#ff0000" fill-opacity="0.22"/>
<rect x="832" y="430" width="1" height="1" fill="#ff0000" fill-opacity="0.65"/>
<rect x="833" y="430" width="1" height="1" fill="#ff0000" fill-opacity="0.1"/>
<rect x="836" y="410" width="1" height="16" fill="#00ba00"/>
<rect x="835" y="425" width="1" height="1" fill="#00ba00" fill-opacity="0.8"/>
<rect x="834" y="425" width="1" height="1" fill="#00ba00" fill-opacity="0.22"/>
<rect x="837" y="412" width="1" height="1" fill="#00ba00" fill-opacity="0.65"/>
<rect x="838" y="412" width="1" height="1" fill="#00ba00" fill-opacity="0.1"/>
<rect x="841" y="407" width="1" height="13" fill="#00ba00"/>
<rect x="840" y="412" width="1" height="1" fill="#00ba00" fill-opacity="0.8"/>
<rect x="839" y="412" width="1" height="1" fill="#00ba00" fill-opacity="0.22"/>
<rect x="842" y="409" width="1" height="1" fill="#00ba00" fill-opacity="0.65"/>
<rect x="843" y="409" width="1" height="1" fill="#00ba00" fill-opacity="0.1"/>
<rect x="846" y="375" width="1" height="35" fill="#00ba00"/>
<rect x="845" y="409" width="1" height="1" fill="#00ba00" fill-opacity="0.8"/>
<rect x="844" y="409" width="1" height="1" fill="#00ba00" fill-opacity="0.22"/>
<rect x="847" y="379" width="1" height="1" fill="#00ba00" fill-opacity="0.65"/>
<rect x="848" y="379" width="1" height="1" fill="#00ba00" fill-opacity="0.1"/>
<rect x="852" y="363" width="1" height="28" fill="#ff0000"/>
<rect x="851" y="379" width="1" height="1" fill="#ff0000" fill-opacity="0.8"/>
<rect x="850" y="379" width="1" height="1" fill="#ff0000" fill-opacity="0.22"/>
<rect x="853" y="387" width="1" height="1" fill="#ff0000" fill-opacity="0.65"/>
<rect x="854" y="387" width="1" height="1" fill="#ff0000" fill-opacity="0.1"/>
<rect x="857" y="378" width="1" height="23" fill="#00ba00"/>
<rect x="856" y="387" width="1" height="1" fill="#00ba00" fill-opacity="0.8"/>
<rect x="855" y="387" width="1" height="1" fill="#00ba00" fill-opacity="0.22"/>
<rect x="858" y="381" width="1" height="1" fill="#00ba00" fill-opacity="0.65"/>
<rect x="859" y="381" width="1" height="1" fill="#00ba00" fill-opacity="0.1"/>
<rect x="862" y="375" width="1" height="12" fill="#ff0000"/>
<rect x="861" y="381" width="1" height="1" fill="#ff0000" fill-opacity="0.8"/>
<rect x="860" y="381" width="1" height="1" fill="#ff0000" fill-opacity="0.22"/>
<rect x="863" y="385" width="1" height="1" fill="#ff0000" fill-opacity="0.65"/>
<rect x="864" y="385" width="1" height="1" fill="#ff0000" fill-opacity="0.1"/>
<rect x="867" y="377" width="1" height="10" fill="#ff0000"/>
<rect x="866" y="378" width="1" height="1" fill="#ff0000" fill-opacity="0.8"/>
<rect x="865" y="378" width="1" height="1" fill="#ff0000" fill-opacity="0.22"/>
<rect x="868" y="385" width="1" height="1" fill="#ff0000" fill-opacity="0.65"/>
<rect x="869" y="385" width="1" height="1" fill="#ff0000" fill-opacity="0.1"/>
<rect x="873" y="377" width="1" height="15" fill="#00ba00"/>
<rect x="872" y="385" width="1" height="1" fill="#00ba00" fill-opacity="0.8"/>
<rect x="871" y="385" width="1" height="1" fill="#00ba00" fill-opacity="0.22"/>
<rect x="874" y="379" width="1" height="1" fill="#00ba00" fill-opacity="0.65"/>
<rect x="875" y="379" width="1" height="1" fill="#00ba00" fill-opacity="0.1"/>
<rect x="878" y="366" width="1" height="14" fill="#00ba00"/>
<rect x="877" y="379" width="1" height="1" fill="#00ba00" fill-opacity="0.8"/>
<rect x="876" y="379" width="1" height="1" fill="#00ba00" fill-opacity="0.22"/>
<rect x="879" y="368" width="1" height="1" fill="#00ba00" fill-opacity="0.65"/>
<rect x="880" y="368" width="1" height="1" fill="#00ba00" fill-opacity="0.1"/>
<rect x="883" y="369" width="1" height="19" fill="#ff0000"/>
<rect x="882" y="369" width="1" height="1" fill="#ff0000" fill-opacity="0.8"/>
<rect x="881" y="369" width="1" height="1" fill="#ff0000" fill-opacity="0.22"/>
<rect x="884" y="385" width="1" height="1" fill="#ff0000" fill-opacity="0.65"/>
<rect x="885" y="385" width="1" height="1" fill="#ff0000" fill-opacity="0.1"/>
<rect x="888" y="386" width="1" height="14" fill="#ff0000"/>
<rect x="887" y="386" width="1" height="1" fill="#ff0000" fill-opacity="0.8"/>
<rect x="886" y="386" width="1" height="1" fill="#ff0000" fill-opacity="0.22"/>
<rect x="889" y="397" width="1" height="1" fill="#ff0000" fill-opacity="0.65"/>
<rect x="890" y="397" width="1" height="1" fill="#ff0000" fill-opacity="0.1"/>
<rect x="894" y="246" width="1" height="45" fill="#00ba00"/>
<rect x="893" y="290" width="1" height="1" fill="#00ba00" fill-opacity="0.8"/>
<rect x="892" y="290" width="1" height="1" fill="#00ba00" fill-opacity="0.22"/>
<rect x="895" y="251" width="1" height="1" fill="#00ba00" fill-opacity="0.65"/>
<rect x="896" y="251" width="1" height="1" fill="#00ba00" fill-opacity="0.1"/>
<rect x="899" y="258" width="1" height="26" fill="#ff0000"/>
<rect x="898" y="258" width="1" height="1" fill="#ff0000" fill-opacity="0.8"/>
<rect x="897" y="258" width="1" height="1" fill="#ff0000" fill-opacity="0.22"/>
<rect x="900" y="280" width="1" height="1" fill="#ff0000" fill-opacity="0.65"/>
<rect x="901" y="280" width="1" height="1" fill="#ff0000" fill-opacity="0.1"/>
<rect x="904" y="259" width="1" height="18" fill="#ff0000"/>
<rect x="903" y="261" width="1" height="1" fill="#ff0000" fill-opacity="0.8"/>
<rect x="902" y="261" width="1" height="1" fill="#ff0000" fill-opacity="0.22"/>
<rect x="905" y="274" width="1" height="1" fill="#ff0000" fill-opacity="0.65"/>
<rect x="906" y="274" width="1" height="1" fill="#ff0000" fill-opacity="0.1"/>
<rect x="910" y="261" width="1" height="27" fill="#ff0000"/>
<rect x="909" y="274" width="1" height="1" fill="#ff0000" fill-opacity="0.8"/>
<rect x="908" y="274" width="1" height="1" fill="#ff0000" fill-opacity="0.22"/>
<rect x="911" y="284" width="1" height="1" fill="#ff0000" fill-opacity="0.65"/>
<rect x="912" y="284" width="1" height="1" fill="#ff0000" fill-opacity="0.1"/>
<rect x="915" y="267" width="1" height="35" fill="#00ba00"/>
<rect x="914" y="284" width="1" height="1" fill="#00ba00" fill-opacity="0.8"/>
<rect x="913" y="284" width="1" height="1" fill="#00ba00" fill-opacity="0.22"/>
<rect x="916" y="271" width="1" height="1" fill="#00ba00" fill-opacity="0.65"/>
<rect x="917" y="271" width="1" height="1" fill="#00ba00" fill-opacity="0.1"/>
<rect x="920" y="250" width="1" height="23" fill="#00ba00"/>
<rect x="919" y="271" width="1" height="1" fill="#00ba00" fill-opacity="0.8"/>
<rect x="918" y="271" width="1" height="1" fill="#00ba00" fill-opacity="0.22"/>
<rect x="921" y="253" width="1" height="1" fill="#00ba00" fill-opacity="0.65"/>
<rect x="922" y="253" width="1" height="1" fill="#00ba00" fill-opacity="0.1"/>
<rect x="925" y="214" width="1" height="42" fill="#00ba00"/>
<rect x="924" y="253" width="1" height="1" fill="#00ba00" fill-opacity="0.8"/>
<rect x="923" y="253" width="1" height="1" fill="#00ba00" fill-opacity="0.22"/>
<rect x="926" y="219" width="1" height="1" fill="#00ba00" fill-opacity="0.65"/>
<rect x="927" y="219" width="1" height="1" fill="#00ba00" fill-opacity="0.1"/>
<rect x="931" y="212" width="1" height="14" fill="#ff0000"/>
<rect x="930" y="219" width="1" height="1" fill="#ff0000" fill-opacity="0.8"/>
<rect x="929" y="219" width="1" height="1" fill="#ff0000" fill-opacity="0.22"/>
<rect x="932" y="223" width="1" height="1" fill="#ff0000" fill-opacity="0.65"/>
<rect x="933" y="223" width="1" height="1" fill="#ff0000" fill-opacity="0.1"/>
<rect x="936" y="214" width="1" height="12" fill="#00ba00"/>
<rect x="935" y="223" width="1" height="1" fill="#00ba00" fill-opacity="0.8"/>
<rect x="934" y="223" width="1" height="1" fill="#00ba00" fill-opacity="0.22"/>
<rect x="937" y="215" width="1" height="1" fill="#00ba00" fill-opacity="0.65"/>
<rect x="938" y="215" width="1" height="1" fill="#00ba00" fill-opacity="0.1"/>
<rect x="941" y="215" width="1" height="31" fill="#ff0000"/>
<rect x="940" y="215" width="1" height="1" fill="#ff0000" fill-opacity="0.8"/>
<rect x="939" y="215" width="1" height="1" fill="#ff0000" fill-opacity="0.22"/>
<rect x="942" y="241" width="1" height="1" fill="#ff0000" fill-opacity="0.65"/>
<rect x="943" y="241" width="1" height="1" fill="#ff0000" fill-opacity="0.1"/>
<rect x="946" y="241" width="1" height="21" fill="#ff0000"/>
<rect x="945" y="241" width="1" height="1" fill="#ff0000" fill-opacity="0.8"/>
<rect x="944" y="241" width="1" height="1" fill="#ff0000" fill-opacity="0.22"/>
<rect x="947" y="258" width="1" height="1" fill="#ff0000" fill-opacity="0.65"/>
<rect x="948" y="258" width="1" height="1" fill="#ff0000" fill-opacity="0.1"/>
<rect x="952" y="254" width="1" height="23" fill="#00ba00"/>
<rect x="951" y="258" width="1" height="1" fill="#00ba00" fill-opacity="0.8"/>
<rect x="950" y="258" width="1" height="1" fill="#00ba00" fill-opacity="0.22"/>
<rect x="953" y="257" width="1" height="1" fill="#00ba00" fill-opacity="0.65"/>
<rect x="954" y="257" width="1" height="1" fill="#00ba00" fill-opacity="0.1"/>
<rect x="957" y="237" width="1" height="24" fill="#00ba00"/>
<rect x="956" y="257" width="1" height="1" fill="#00ba00" fill-opacity="0.8"/>
<rect x="955" y="257" width="1" height="1" fill="#00ba00" fill-opacity="0.22"/>
<rect x="958" y="240" width="1" height="1" fill="#00ba00" fill-opacity="0.65"/>
<rect x="959" y="240" width="1" height="1" fill="#00ba00" fill-opacity="0.1"/>
<rect x="962" y="225" width="1" height="22" fill="#00ba00"/>
<rect x="961" y="240" width="1" height="1" fill="#00ba00" fill-opacity="0.8"/>
<rect x="960" y="240" width="1" height="1" fill="#00ba00" fill-opacity="0.22"/>
<rect x="963" y="228" width="1" height="1" fill="#00ba00" fill-opacity="0.65"/>
<rect x="964" y="228" width="1" height="1" fill="#00ba00" fill-opacity="0.1"/>
<rect x="967" y="226" width="1" height="19" fill="#ff0000"/>
<rect x="966" y="228" width="1" height="1" fill="#ff0000" fill-opacity="0.8"/>
<rect x="965" y="228" width="1" height="1" fill="#ff0000" fill-opacity="0.22"/>
<rect x="968" y="242" width="1" height="1" fill="#ff0000" fill-opacity="0.65"/>
<rect x="969" y="242" width="1" height="1" fill="#ff0000" fill-opacity="0.1"/>
<rect x="973" y="226" width="1" height="16" fill="#00ba00"/>
<rect x="972" y="241" width="1" height="1" fill="#00ba00" fill-opacity="0.8"/>
<rect x="971" y="241" width="1" height="1" fill="#00ba00" fill-opacity="0.22"/>
<rect x="974" y="228" width="1" height="1" fill="#00ba00" fill-opacity="0.65"/>
<rect x="975" y="228" width="1" height="1" fill="#00ba00" fill-opacity="0.1"/>
<rect x="978" y="212" width="1" height="15" fill="#00ba00"/>
<rect x="977" y="226" width="1" height="1" fill="#00ba00" fill-opacity="0.8"/>
<rect x="976" y="226" width="1" height="1" fill="#00ba00" fill-opacity="0.22"/>
<rect x="979" y="214" width="1" height="1" fill="#00ba00" fill-opacity="0.65"/>
<rect x="980" y="214" width="1" height="1" fill="#00ba00" fill-opacity="0.1"/>
<rect x="983" y="223" width="1" height="1" fill="#00ba00"/>
<rect x="982" y="223" width="1" height="1" fill="#00ba00" fill-opacity="0.8"/>
<rect x="981" y="223" width="1" height="1" fill="#00ba00" fill-opacity="0.22"/>
<rect x="984" y="223" width="1" height="1" fill="#00ba00" fill-opacity="0.65"/>
<rect x="985" y="223" width="1" height="1" fill="#00ba00" fill-opacity="0.1"/>
<rect x="988" y="216" width="1" height="31" fill="#ff0000"/>
<rect x="987" y="223" width="1" height="1" fill="#ff0000" fill-opacity="0.8"/>
<rect x="986" y="223" width="1" height="1" fill="#ff0000" fill-opacity="0.22"/>
<rect x="989" y="242" width="1" height="1" fill="#ff0000" fill-opacity="0.65"/>
<rect x="990" y="242" width="1" height="1" fill="#ff0000" fill-opacity="0.1"/>
<rect x="994" y="225" width="1" height="30" fill="#00ba00"/>
<rect x="993" y="242" width="1" height="1" fill="#00ba00" fill-opacity="0.8"/>
<rect x="992" y="242" width="1" height="1" fill="#00ba00" fill-opacity="0.22"/>
<rect x="995" y="229" width="1" height="1" fill="#00ba00" fill-opacity="0.65"/>
<rect x="996" y="229" width="1" height="1" fill="#00ba00" fill-opacity="0.1"/>
<rect x="999" y="235" width="1" height="27" fill="#ff0000"/>
<rect x="998" y="235" width="1" height="1" fill="#ff0000" fill-opacity="0.8"/>
<rect x="997" y="235" width="1" height="1" fill="#ff0000" fill-opacity="0.22"/>
<rect x="1000" y="258" width="1" height="1" fill="#ff0000" fill-opacity="0.65"/>
<rect x="1001" y="258" width="1" height="1" fill="#ff0000" fill-opacity="0.1"/>
<rect x="1004" y="254" width="1" height="15" fill="#ff0000"/>
<rect x="1003" y="258" width="1" height="1" fill="#ff0000" fill-opacity="0.8"/>
<rect x="1002" y="258" width="1" height="1" fill="#ff0000" fill-opacity="0.22"/>
<rect x="1005" y="266" width="1" height="1" fill="#ff0000" fill-opacity="0.65"/>
<rect x="1006" y="266" width="1" height="1" fill="#ff0000" fill-opacity="0.1"/>
<rect x="1010" y="256" width="1" height="12" fill="#00ba00"/>
<rect x="1009" y="266" width="1" height="1" fill="#00ba00" fill-opacity="0.8"/>
<rect x="1008" y="266" width="1" height="1" fill="#00ba00" fill-opacity="0.22"/>
<rect x="1011" y="257" width="1" height="1" fill="#00ba00" fill-opacity="0.65"/>
<rect x="1012" y="257" width="1" height="1" fill="#00ba00" fill-opacity="0.1"/>
<rect x="1015" y="245" width="1" height="18" fill="#00ba00"/>
<rect x="1014" y="257" width="1" height="1" fill="#00ba00" fill-opacity="0.8"/>
<rect x="1013" y="257" width="1" height="1" fill="#00ba00" fill-opacity="0.22"/>
<rect x="1016" y="247" width="1" height="1" fill="#00ba00" fill-opacity="0.65"/>
<rect x="1017" y="247" width="1" height="1" fill="#00ba00" fill-opacity="0.1"/>
<rect x="1020" y="240" width="1" height="18" fill="#ff0000"/>
<rect x="1019" y="247" width="1" height="1" fill="#ff0000" fill-opacity="0.8"/>
<rect x="1018" y="247" width="1" height="1" fill="#ff0000" fill-opacity="0.22"/>
<rect x="1021" y="255" width="1" height="1" fill="#ff0000" fill-opacity="0.65"/>
<rect x="1022" y="255" width="1" height="1" fill="#ff0000" fill-opacity="0.1"/>
<rect x="1025" y="238" width="1" height="20" fill="#00ba00"/>
<rect x="1024" y="255" width="1" height="1" fill="#00ba00" fill-opacity="0.8"/>
<rect x="1023" y="255" width="1" height="1" fill="#00ba00" fill-opacity="0.22"/>
<rect x="1026" y="240" width="1" height="1" fill="#00ba00" fill-opacity="0.65"/>
<rect x="1027" y="240" width="1" height="1" fill="#00ba00" fill-opacity="0.1"/>
<rect x="1031" y="241" width="1" height="17" fill="#ff0000"/>
<rect x="1030" y="241" width="1" height="1" fill="#ff0000" fill-opacity="0.8"/>
<rect x="1029" y="241" width="1" height="1" fill="#ff0000" fill-opacity="0.22"/>
<rect x="1032" y="255" width="1" height="1" fill="#ff0000" fill-opacity="0.65"/>
<rect x="1033" y="255" width="1" height="1" fill="#ff0000" fill-opacity="0.1"/>
<rect x="1036" y="254" width="1" height="17" fill="#ff0000"/>
<rect x="1035" y="255" width="1" height="1" fill="#ff0000" fill-opacity="0.8"/>
<rect x="1034" y="255" width="1" height="1" fill="#ff0000" fill-opacity="0.22"/>
<rect x="1037" y="268" width="1" height="1" fill="#ff0000" fill-opacity="0.65"/>
<rect x="1038" y="268" width="1" height="1" fill="#ff0000" fill-opacity="0.1"/>
<rect x="1041" y="259" width="1" height="14" fill="#00ba00"/>
<rect x="1040" y="268" width="1" height="1" fill="#00ba00" fill-opacity="0.8"/>
<rect x="1039" y="268" width="1" height="1" fill="#00ba00" fill-opacity="0.22"/>
<rect x="1042" y="261" width="1" height="1" fill="#00ba00" fill-opacity="0.65"/>
<rect x="1043" y="261" width="1" height="1" fill="#00ba00" fill-opacity="0.1"/>
<rect x="1046" y="257" width="1" height="17" fill="#00ba00"/>
<rect x="1045" y="261" width="1" height="1" fill="#00ba00" fill-opacity="0.8"/>
<rect x="1044" y="261" width="1" height="1" fill="#00ba00" fill-opacity="0.22"/>
<rect x="1047" y="259" width="1" height="1" fill="#00ba00" fill-opacity="0.65"/>
<rect x="1048" y="259" width="1" height="1" fill="#00ba00" fill-opacity="0.1"/>
<rect x="1052" y="250" width="1" height="19" fill="#00ba00"/>
<rect x="1051" y="259" width="1" height="1" fill="#00ba00" fill-opacity="0.8"/>
<rect x="1050" y="259" width="1" height="1" fill="#00ba00" fill-opacity="0.22"/>
<rect x="1053" y="252" width="1" height="1" fill="#00ba00" fill-opacity="0.65"/>
<rect x="1054" y="252" width="1" height="1" fill="#00ba00" fill-opacity="0.1"/>
<rect x="1057" y="253" width="1" height="30" fill="#ff0000"/>
<rect x="1056" y="253" width="1" height="1" fill="#ff0000" fill-opacity="0.8"/>
<rect x="1055" y="253" width="1" height="1" fill="#ff0000" fill-opacity="0.22"/>
<rect x="1058" y="278" width="1" height="1" fill="#ff0000" fill-opacity="0.65"/>
<rect x="1059" y="278" width="1" height="1" fill="#ff0000" fill-opacity="0.1"/>
<rect x="1062" y="279" width="1" height="26" fill="#ff0000"/>
<rect x="1061" y="279" width="1" height="1" fill="#ff0000" fill-opacity="0.8"/>
<rect x="1060" y="279" width="1" height="1" fill="#ff0000" fill-opacity="0.22"/>
<rect x="1063" y="301" width="1" height="1" fill="#ff0000" fill-opacity="0.65"/>
<rect x="1064" y="301" width="1" height="1" fill="#ff0000" fill-opacity="0.1"/>
<rect x="1067" y="286" width="1" height="16" fill="#00ba00"/>
<rect x="1066" y="301" width="1" height="1" fill="#00ba00" fill-opacity="0.8"/>
<rect x="1065" y="301" width="1" height="1" fill="#00ba00" fill-opacity="0.22"/>
<rect x="1068" y="288" width="1" height="1" fill="#00ba00" fill-opacity="0.65"/>
<rect x="1069" y="288" width="1" height="1" fill="#00ba00" fill-opacity="0.1"/>
<rect x="1073" y="282" width="1" height="12" fill="#ff0000"/>
<rect x="1072" y="288" width="1" height="1" fill="#ff0000" fill-opacity="0.8"/>
<rect x="1071" y="288" width="1" height="1" fill="#ff0000" fill-opacity="0.22"/>
<rect x="1074" y="292" width="1" height="1" fill="#ff0000" fill-opacity="0.65"/>
<rect x="1075" y="292" width="1" height="1" fill="#ff0000" fill-opacity="0.1"/>
<rect x="1078" y="270" width="1" height="32" fill="#00ba00"/>
<rect x="1077" y="292" width="1" height="1" fill="#00ba00" fill-opacity="0.8"/>
<rect x="1076" y="292" width="1" height="1" fill="#00ba00" fill-opacity="0.22"/>
<rect x="1079" y="274" width="1" height="1" fill="#00ba00" fill-opacity="0.65"/>
<rect x="1080" y="274" width="1" height="1" fill="#00ba00" fill-opacity="0.1"/>
<rect x="1083" y="255" width="1" height="28" fill="#ff0000"/>
<rect x="1082" y="274" width="1" height="1" fill="#ff0000" fill-opacity="0.8"/>
<rect x="1081" y="274" width="1" height="1" fill="#ff0000" fill-opacity="0.22"/>
<rect x="1084" y="279" width="1" height="1" fill="#ff0000" fill-opacity="0.65"/>
<rect x="1085" y="279" width="1" height="1" fill="#ff0000" fill-opacity="0.1"/>
<rect x="1088" y="272" width="1" height="24" fill="#ff0000"/>
<rect x="1087" y="279" width="1" height="1" fill="#ff0000" fill-opacity="0.8"/>
<rect x="1086" y="279" width="1" height="1" fill="#ff0000" fill-opacity="0.22"/>
<rect x="1089" y="292" width="1" height="1" fill="#ff0000" fill-opacity="0.65"/>
<rect x="1090" y="292" width="1" height="1" fill="#ff0000" fill-opacity="0.1"/>
<rect x="1094" y="277" width="1" height="19" fill="#00ba00"/>
<rect x="1093" y="292" width="1" height="1" fill="#00ba00" fill-opacity="0.8"/>
<rect x="1092" y="292" width="1" height="1" fill="#00ba00" fill-opacity="0.22"/>
<rect x="1095" y="279" width="1" height="1" fill="#00ba00" fill-opacity="0.65"/>
<rect x="1096" y="279" width="1" height="1" fill="#00ba00" fill-opacity="0.1"/>
<rect x="1099" y="278" width="1" height="11" fill="#ff0000"/>
<rect x="1098" y="279" width="1" height="1" fill="#ff0000" fill-opacity="0.8"/>
<rect x="1097" y="279" width="1" height="1" fill="#ff0000" fill-opacity="0.22"/>
<rect x="1100" y="287" width="1" height="1" fill="#ff0000" fill-opacity="0.65"/>
<rect x="1101" y="287" width="1" height="1" fill="#ff0000" fill-opacity="0.1"/>
<rect x="1104" y="259" width="1" height="27" fill="#00ba00"/>
<rect x="1103" y="285" width="1" height="1" fill="#00ba00" fill-opacity="0.8"/>
<rect x="1102" y="285" width="1" height="1" fill="#00ba00" fill-opacity="0.22"/>
<rect x="1105" y="262" width="1" height="1" fill="#00ba00" fill-opacity="0.65"/>
<rect x="1106" y="262" width="1" height="1" fill="#00ba00" fill-opacity="0.1"/>
<rect x="1110" y="249" width="1" height="16" fill="#00ba00"/>
<rect x="1109" y="262" width="1" height="1" fill="#00ba00" fill-opacity="0.8"/>
<rect x="1108" y="262" width="1" height="1" fill="#00ba00" fill-opacity="0.22"/>
<rect x="1111" y="251" width="1" height="1" fill="#00ba00" fill-opacity="0.65"/>
<rect x="1112" y="251" width="1" height="1" fill="#00ba00" fill-opacity="0.1"/>
<rect x="1115" y="252" width="1" height="13" fill="#ff0000"/>
<rect x="1114" y="252" width="1" height="1" fill="#ff0000" fill-opacity="0.8"/>
<rect x="1113" y="252" width="1" height="1" fill="#ff0000" fill-opacity="0.22"/>
<rect x="1116" y="262" width="1" height="1" fill="#ff0000" fill-opacity="0.65"/>
<rect x="1117" y="262" width="1" height="1" fill="#ff0000" fill-opacity="0.1"/>
<rect x="1120" y="262" width="1" height="7" fill="#ff0000"/>
<rect x="1119" y="262" width="1" height="1" fill="#ff0000" fill-opacity="0.8"/>
<rect x="1118" y="262" width="1" height="1" fill="#ff0000" fill-opacity="0.22"/>
<rect x="1121" y="267" width="1" height="1" fill="#ff0000" fill-opacity="0.65"/>
<rect x="1122" y="267" width="1" height="1" fill="#ff0000" fill-opacity="0.1"/>
<rect x="1125" y="267" width="1" height="17" fill="#ff0000"/>
<rect x="1124" y="267" width="1" height="1" fill="#ff0000" fill-opacity="0.8"/>
<rect x="1123" y="267" width="1" height="1" fill="#ff0000" fill-opacity="0.22"/>
<rect x="1126" y="281" width="1" height="1" fill="#ff0000" fill-opacity="0.65"/>
<rect x="1127" y="281" width="1" height="1" fill="#ff0000" fill-opacity="0.1"/>
<rect x="1131" y="273" width="1" height="15" fill="#00ba00"/>
<rect x="1130" y="281" width="1" height="1" fill="#00ba00" fill-opacity="0.8"/>
<rect x="1129" y="281" width="1" height="1" fill="#00ba00" fill-opacity="0.22"/>
<rect x="1132" y="275" width="1" height="1" fill="#00ba00" fill-opacity="0.65"/>
<rect x="1133" y="275" width="1" height="1" fill="#00ba00" fill-opacity="0.1"/>
<rect x="1136" y="252" width="1" height="28" fill="#00ba00"/>
<rect x="1135" y="275" width="1" height="1" fill="#00ba00" fill-opacity="0.8"/>
<rect x="1134" y="275" width="1" height="1" fill="#00ba00" fill-opacity="0.22"/>
<rect x="1137" y="255" width="1" height="1" fill="#00ba00" fill-opacity="0.65"/>
<rect x="1138" y="255" width="1" height="1" fill="#00ba00" fill-opacity="0.1"/>
<rect x="1141" y="254" width="1" height="13" fill="#00ba00"/>
<rect x="1140" y="264" width="1" height="1" fill="#00ba00" fill-opacity="0.8"/>
<rect x="1139" y="264" width="1" height="1" fill="#00ba00" fill-opacity="0.22"/>
<rect x="1142" y="256" width="1" height="1" fill="#00ba00" fill-opacity="0.65"/>
<rect x="1143" y="256" width="1" height="1" fill="#00ba00" fill-opacity="0.1"/>
<rect x="1146" y="240" width="1" height="21" fill="#ff0000"/>
<rect x="1145" y="256" width="1" height="1" fill="#ff0000" fill-opacity="0.8"/>
<rect x="1144" y="256" width="1" height="1" fill="#ff0000" fill-opacity="0.22"/>
<rect x="1147" y="257" width="1" height="1" fill="#ff0000" fill-opacity="0.65"/>
<rect x="1148" y="257" width="1" height="1" fill="#ff0000" fill-opacity="0.1"/>
<rect x="1152" y="256" width="1" height="16" fill="#ff0000"/>
<rect x="1151" y="257" width="1" height="1" fill="#ff0000" fill-opacity="0.8"/>
<rect x="1150" y="257" width="1" height="1" fill="#ff0000" fill-opacity="0.22"/>
<rect x="1153" y="269" width="1" height="1" fill="#ff0000" fill-opacity="0.65"/>
<rect x="1154" y="269" width="1" height="1" fill="#ff0000" fill-opacity="0.1"/>
<rect x="1157" y="249" width="1" height="21" fill="#00ba00"/>
<rect x="1156" y="269" width="1" height="1" fill="#00ba00" fill-opacity="0.8"/>
<rect x="1155" y="269" width="1" height="1" fill="#00ba00" fill-opacity="0.22"/>
<rect x="1158" y="252" width="1" height="1" fill="#00ba00" fill-opacity="0.65"/>
<rect x="1159" y="252" width="1" height="1" fill="#00ba00" fill-opacity="0.1"/>
<rect x="1162" y="244" width="1" height="22" fill="#00ba00"/>
<rect x="1161" y="252" width="1" height="1" fill="#00ba00" fill-opacity="0.8"/>
<rect x="1160" y="252" width="1" height="1" fill="#00ba00" fill-opacity="0.22"/>
<rect x="1163" y="247" width="1" height="1" fill="#00ba00" fill-opacity="0.65"/>
<rect x="1164" y="247" width="1" height="1" fill="#00ba00" fill-opacity="0.1"/>
<rect x="1167" y="261" width="1" height="26" fill="#ff0000"/>
<rect x="1166" y="261" width="1" height="1" fill="#ff0000" fill-opacity="0.8"/>
<rect x="1165" y="261" width="1" height="1" fill="#ff0000" fill-opacity="0.22"/>
<rect x="1168" y="283" width="1" height="1" fill="#ff0000" fill-opacity="0.65"/>
<rect x="1169" y="283" width="1" height="1" fill="#ff0000" fill-opacity="0.1"/>
<rect x="1173" y="275" width="1" height="22" fill="#ff0000"/>
<rect x="1172" y="283" width="1" height="1" fill="#ff0000" fill-opacity="0.8"/>
<rect x="1171" y="283" width="1" height="1" fill="#ff0000" fill-opacity="0.22"/>
<rect x="1174" y="293" width="1" height="1" fill="#ff0000" fill-opacity="0.65"/>
<rect x="1175" y="293" width="1" height="1" fill="#ff0000" fill-opacity="0.1"/>
<rect x="1178" y="289" width="1" height="13" fill="#ff0000"/>
<rect x="1177" y="293" width="1" height="1" fill="#ff0000" fill-opacity="0.8"/>
<rect x="1176" y="293" width="1" height="1" fill="#ff0000" fill-opacity="0.22"/>
<rect x="1179" y="299" width="1" height="1" fill="#ff0000" fill-opacity="0.65"/>
<rect x="1180" y="299" width="1" height="1" fill="#ff0000" fill-opacity="0.1"/>
<rect x="1183" y="280" width="1" height="18" fill="#00ba00"/>
<rect x="1182" y="297" width="1" height="1" fill="#00ba00" fill-opacity="0.8"/>
<rect x="1181" y="297" width="1" height="1" fill="#00ba00" fill-opacity="0.22"/>
<rect x="1184" y="282" width="1" height="1" fill="#00ba00" fill-opacity="0.65"/>
<rect x="1185" y="282" width="1" height="1" fill="#00ba00" fill-opacity="0.1"/>
<rect x="1188" y="273" width="1" height="25" fill="#ff0000"/>
<rect x="1187" y="282" width="1" height="1" fill="#ff0000" fill-opacity="0.8"/>
<rect x="1186" y="282" width="1" height="1" fill="#ff0000" fill-opacity="0.22"/>
<rect x="1189" y="294" width="1" height="1" fill="#ff0000" fill-opacity="0.65"/>
<rect x="1190" y="294" width="1" height="1" fill="#ff0000" fill-opacity="0.1"/>
<rect x="1194" y="279" width="1" height="15" fill="#00ba00"/>
<rect x="1193" y="293" width="1" height="1" fill="#00ba00" fill-opacity="0.8"/>
<rect x="1192" y="293" width="1" height="1" fill="#00ba00" fill-opacity="0.22"/>
<rect x="1195" y="281" width="1" height="1" fill="#00ba00" fill-opacity="0.65"/>
<rect x="1196" y="281" width="1" height="1" fill="#00ba00" fill-opacity="0.1"/>
<rect x="1199" y="287" width="1" height="9" fill="#00ba00"/>
<rect x="1198" y="294" width="1" height="1" fill="#00ba00" fill-opacity="0.8"/>
<rect x="1197" y="294" width="1" height="1" fill="#00ba00" fill-opacity="0.22"/>
<rect x="1200" y="288" width="1" height="1" fill="#00ba00" fill-opacity="0.65"/>
<rect x="1201" y="288" width="1" height="1" fill="#00ba00" fill-opacity="0.1"/>
<rect x="1204" y="281" width="1" height="10" fill="#ff0000"/>
<rect x="1203" y="288" width="1" height="1" fill="#ff0000" fill-opacity="0.8"/>
<rect x="1202" y="288" width="1" height="1" fill="#ff0000" fill-opacity="0.22"/>
<rect x="1205" y="289" width="1" height="1" fill="#ff0000" fill-opacity="0.65"/>
<rect x="1206" y="289" width="1" height="1" fill="#ff0000" fill-opacity="0.1"/>
<rect x="1210" y="276" width="1" height="15" fill="#00ba00"/>
<rect x="1209" y="289" width="1" height="1" fill="#00ba00" fill-opacity="0.8"/>
<rect x="1208" y="289" width="1" height="1" fill="#00ba00" fill-opacity="0.22"/>
<rect x="1211" y="278" width="1" height="1" fill="#00ba00" fill-opacity="0.65"/>
<rect x="1212" y="278" width="1" height="1" fill="#00ba00" fill-opacity="0.1"/>
<rect x="1215" y="276" width="1" height="15" fill="#ff0000"/>
<rect x="1214" y="278" width="1" height="1" fill="#ff0000" fill-opacity="0.8"/>
<rect x="1213" y="278" width="1" height="1" fill="#ff0000" fill-opacity="0.22"/>
<rect x="1216" y="288" width="1" height="1" fill="#ff0000" fill-opacity="0.65"/>
<rect x="1217" y="288" width="1" height="1" fill="#ff0000" fill-opacity="0.1"/>
<rect x="1220" y="275" width="1" height="15" fill="#00ba00"/>
<rect x="1219" y="288" width="1" height="1" fill="#00ba00" fill-opacity="0.8"/>
<rect x="1218" y="288" width="1" height="1" fill="#00ba00" fill-opacity="0.22"/>
<rect x="1221" y="277" width="1" height="1" fill="#00ba00" fill-opacity="0.65"/>
<rect x="1222" y="277" width="1" height="1" fill="#00ba00" fill-opacity="0.1"/>
<rect x="1225" y="272" width="1" height="14" fill="#00ba00"/>
<rect x="1224" y="277" width="1" height="1" fill="#00ba00" fill-opacity="0.8"/>
<rect x="1223" y="277" width="1" height="1" fill="#00ba00" fill-opacity="0.22"/>
<rect x="1226" y="274" width="1" height="1" fill="#00ba00" fill-opacity="0.65"/>
<rect x="1227" y="274" width="1" height="1" fill="#00ba00" fill-opacity="0.1"/>
<rect x="1231" y="263" width="1" height="22" fill="#ff0000"/>
<rect x="1230" y="274" width="1" height="1" fill="#ff0000" fill-opacity="0.8"/>
<rect x="1229" y="274" width="1" height="1" fill="#ff0000" fill-opacity="0.22"/>
<rect x="1232" y="281" width="1" height="1" fill="#ff0000" fill-opacity="0.65"/>
<rect x="1233" y="281" width="1" height="1" fill="#ff0000" fill-opacity="0.1"/>
<rect x="1236" y="270" width="1" height="14" fill="#ff0000"/>
<rect x="1235" y="272" width="1" height="1" fill="#ff0000" fill-opacity="0.8"/>
<rect x="1234" y="272" width="1" height="1" fill="#ff0000" fill-opacity="0.22"/>
<rect x="1237" y="281" width="1" height="1" fill="#ff0000" fill-opacity="0.65"/>
<rect x="1238" y="281" width="1" height="1" fill="#ff0000" fill-opacity="0.1"/>
<rect x="1241" y="257" width="1" height="37" fill="#00ba00"/>
<rect x="1240" y="281" width="1" height="1" fill="#00ba00" fill-opacity="0.8"/>
<rect x="1239" y="281" width="1" height="1" fill="#00ba00" fill-opacity="0.22"/>
<rect x="1242" y="261" width="1" height="1" fill="#00ba00" fill-opacity="0.65"/>
<rect x="1243" y="261" width="1" height="1" fill="#00ba00" fill-opacity="0.1"/>
<rect x="1246" y="247" width="1" height="22" fill="#00ba00"/>
<rect x="1245" y="261" width="1" height="1" fill="#00ba00" fill-opacity="0.8"/>
<rect x="1244" y="261" width="1" height="1" fill="#00ba00" fill-opacity="0.22"/>
<rect x="1247" y="250" width="1" height="1" fill="#00ba00" fill-opacity="0.65"/>
<rect x="1248" y="250" width="1" height="1" fill="#00ba00" fill-opacity="0.1"/>
<rect x="1252" y="217" width="1" height="31" fill="#00ba00"/>
<rect x="1251" y="247" width="1" height="1" fill="#00ba00" fill-opacity="0.8"/>
<rect x="1250" y="247" width="1" height="1" fill="#00ba00" fill-opacity="0.22"/>
<rect x="1253" y="221" width="1" height="1" fill="#00ba00" fill-opacity="0.65"/>
<rect x="1254" y="221" width="1" height="1" fill="#00ba00" fill-opacity="0.1"/>
<rect x="1257" y="206" width="1" height="35" fill="#ff0000"/>
<rect x="1256" y="221" width="1" height="1" fill="#ff0000" fill-opacity="0.8"/>
<rect x="1255" y="221" width="1" height="1" fill="#ff0000" fill-opacity="0.22"/>
<rect x="1258" y="236" width="1" height="1" fill="#ff0000" fill-opacity="0.65"/>
<rect x="1259" y="236" width="1" height="1" fill="#ff0000" fill-opacity="0.1"/>
<rect x="1262" y="198" width="1" height="37" fill="#00ba00"/>
<rect x="1261" y="234" width="1" height="1" fill="#00ba00" fill-opacity="0.8"/>
<rect x="1260" y="234" width="1" height="1" fill="#00ba00" fill-opacity="0.22"/>
<rect x="1263" y="202" width="1" height="1" fill="#00ba00" fill-opacity="0.65"/>
<rect x="1264" y="202" width="1" height="1" fill="#00ba00" fill-opacity="0.1"/>
<rect x="1267" y="192" width="1" height="14" fill="#00ba00"/>
<rect x="1266" y="202" width="1" height="1" fill="#00ba00" fill-opacity="0.8"/>
<rect x="1265" y="202" width="1" height="1" fill="#00ba00" fill-opacity="0.22"/>
<rect x="1268" y="194" width="1" height="1" fill="#00ba00" fill-opacity="0.65"/>
<rect x="1269" y="194" width="1" height="1" fill="#00ba00" fill-opacity="0.1"/>
<rect x="1273" y="191" width="1" height="25" fill="#ff0000"/>
<rect x="1272" y="194" width="1" height="1" fill="#ff0000" fill-opacity="0.8"/>
<rect x="1271" y="194" width="1" height="1" fill="#ff0000" fill-opacity="0.22"/>
<rect x="1274" y="212" width="1" height="1" fill="#ff0000" fill-opacity="0.65"/>
<rect x="1275" y="212" width="1" height="1" fill="#ff0000" fill-opacity="0.1"/>
<rect x="1278" y="202" width="1" height="15" fill="#00ba00"/>
<rect x="1277" y="212" width="1" height="1" fill="#00ba00" fill-opacity="0.8"/>
<rect x="1276" y="212" width="1" height="1" fill="#00ba00" fill-opacity="0.22"/>
<rect x="1279" y="204" width="1" height="1" fill="#00ba00" fill-opacity="0.65"/>
<rect x="1280" y="204" width="1" height="1" fill="#00ba00" fill-opacity="0.1"/>
<rect x="1283" y="206" width="1" height="12" fill="#ff0000"/>
<rect x="1282" y="206" width="1" height="1" fill="#ff0000" fill-opacity="0.8"/>
<rect x="1281" y="206" width="1" height="1" fill="#ff0000" fill-opacity="0.22"/>
<rect x="1284" y="216" width="1" height="1" fill="#ff0000" fill-opacity="0.65"/>
<rect x="1285" y="216" width="1" height="1" fill="#ff0000" fill-opacity="0.1"/>
<rect x="1289" y="209" width="1" height="23" fill="#ff0000"/>
<rect x="1288" y="216" width="1" height="1" fill="#ff0000" fill-opacity="0.8"/>
<rect x="1287" y="216" width="1" height="1" fill="#ff0000" fill-opacity="0.22"/>
<rect x="1290" y="228" width="1" height="1" fill="#ff0000" fill-opacity="0.65"/>
<rect x="1291" y="228" width="1" height="1" fill="#ff0000" fill-opacity="0.1"/>
<rect x="1294" y="227" width="1" height="7" fill="#ff0000"/>
<rect x="1293" y="228" width="1" height="1" fill="#ff0000" fill-opacity="0.8"/>
<rect x="1292" y="228" width="1" height="1" fill="#ff0000" fill-opacity="0.22"/>
<rect x="1295" y="232" width="1" height="1" fill="#ff0000" fill-opacity="0.65"/>
<rect x="1296" y="232" width="1" height="1" fill="#ff0000" fill-opacity="0.1"/>
</g>
<circle cx="51.9" cy="208.5" r="3" fill="#555"/>
<rect x="1280.6" y="181.2" width="4.7" height="4.7" rx="1.6" fill="#ff0000"/>
<path d="M1278.6 199.5 H1288.6 Q1289.6 199.5 1289.6 200.5 V202.3 L1283.6 208.4 L1277.6 202.3 V200.5 Q1277.6 199.5 1278.6 199.5 Z" fill="#ff9900" stroke="#000" stroke-width="1.1" stroke-linejoin="round"/>
<text transform="translate(1327.9,26) scale(1.036,1)" font-size="10.3" fill="#333" >8,1000</text>
<text transform="translate(1327.9,64) scale(1.036,1)" font-size="10.3" fill="#333" >8,0000</text>
<text transform="translate(1327.9,102) scale(1.036,1)" font-size="10.3" fill="#333" >7,9000</text>
<text transform="translate(1327.9,140) scale(1.036,1)" font-size="10.3" fill="#333" >7,8000</text>
<text transform="translate(1327.9,179) scale(1.036,1)" font-size="10.3" fill="#333" >7,7000</text>
<text transform="translate(1327.9,217) scale(1.036,1)" font-size="10.3" fill="#333" >7,6000</text>
<text transform="translate(1327.9,255) scale(1.036,1)" font-size="10.3" fill="#333" >7,5000</text>
<text transform="translate(1327.9,293) scale(1.036,1)" font-size="10.3" fill="#333" >7,4000</text>
<text transform="translate(1327.9,331) scale(1.036,1)" font-size="10.3" fill="#333" >7,3000</text>
<text transform="translate(1327.9,369) scale(1.036,1)" font-size="10.3" fill="#333" >7,2000</text>
<text transform="translate(1327.9,408) scale(1.036,1)" font-size="10.3" fill="#333" >7,1000</text>
<text transform="translate(1327.9,446) scale(1.036,1)" font-size="10.3" fill="#333" >7,0000</text>
<text transform="translate(1327.9,484) scale(1.036,1)" font-size="10.3" fill="#333" >6,9000</text>
<text transform="translate(173.8,11) scale(1.036,1)" font-size="10.3" fill="#333" >29</text>
<text transform="translate(262.9,11) scale(1.036,1)" font-size="10.3" fill="#333" >30</text>
<text transform="translate(357.5,11) scale(1.036,1)" font-size="10.3" fill="#333" >02 Apr</text>
<text transform="translate(441.9,11) scale(1.036,1)" font-size="10.3" fill="#333" >03</text>
<text transform="translate(531.65,11) scale(1.036,1)" font-size="10.3" fill="#333" >04</text>
<text transform="translate(620.6,11) scale(1.036,1)" font-size="10.3" fill="#333" >05</text>
<text transform="translate(715.6,11) scale(1.036,1)" font-size="10.3" fill="#333" >06</text>
<text transform="translate(804.9,11) scale(1.036,1)" font-size="10.3" fill="#333" >11</text>
<text transform="translate(893.9,11) scale(1.036,1)" font-size="10.3" fill="#333" >12</text>
<text transform="translate(988.2,11) scale(1.036,1)" font-size="10.3" fill="#333" >13</text>
<text transform="translate(1083.9,11) scale(1.036,1)" font-size="10.3" fill="#333" >16 Apr</text>
<text transform="translate(1167.2,11) scale(1.036,1)" font-size="10.3" fill="#333" >17</text>
<text transform="translate(1257.8,11) scale(1.036,1)" font-size="10.3" fill="#333" >18</text>
<rect x="1319" y="43" width="44" height="19" rx="3" fill="#000"/>
<text transform="translate(1324,58) scale(1.036,1)" font-size="10.3" fill="#fff" >7,9984</text>
<rect x="1322" y="121" width="36" height="19" fill="#000"/>
<text transform="translate(1323.3,133) scale(0.97,1)" font-size="11" fill="#fff" >7,8020</text>
<rect x="1358" y="120" width="2" height="21" fill="#fff"/>
<rect x="1318" y="224" width="41.3" height="20" rx="3.5" fill="#0a9e0a"/>
<text transform="translate(1323.4,238) scale(1.036,1)" font-size="10.3" fill="#fff" font-weight="bold">7,5270</text>
</g>
<rect x="0" y="19" width="310" height="20.5" fill="#c5d0e0"/>
<rect x="7" y="26" width="7" height="7" fill="#000"/>
<text transform="translate(19.1,33) scale(1.036,1)" font-size="10.3" fill="#222" >27.03.12</text>
<text transform="translate(64.9,33) scale(1.036,1)" font-size="10.3" fill="#222" xml:space="preserve">14:30:00 / O:7,5870  H:7,5924  L:7,5670  C:7,5909</text>
<rect x="6" y="34" width="299" height="1" fill="#000" shape-rendering="crispEdges"/>
<rect x="11.3" y="-1" width="91.4" height="20.4" fill="#fff"/>
<rect x="12" y="0" width="90" height="18.7" fill="#000"/>
<text transform="translate(12.7,12) scale(0.985,1)" font-size="11" fill="#fff" >27.03.12 14:30:00</text>
<text x="1196.4" y="486.8" font-size="12" font-weight="bold" fill="#999" fill-opacity="0.95">Suche abgeschlossen</text>
<g fill="none" stroke="#0000ff" stroke-width="2.2" stroke-linecap="round" stroke-linejoin="round">
<path d="M1294.3 245.8 L1296.7 250.9 L1298.9 257.4 L1300.8 269.4 L1303.6 287.9 L1306.3 306.4 L1310 304.2 L1313.7 301.8 L1317.4 297.5 L1320.2 295.7 L1323 292.5 L1327.6 290.1 L1331.8 290.1 L1335.9 293.5 L1341.5 298.1 L1347 305.5 L1352.5 313.8 L1357.2 318.4 L1360.7 323.9 L1366 328.6 L1373.3 336.5 L1383.1 346.3 L1397.2 363.2 L1411.2 380 L1418.2 389.9 L1424.3 402.4 L1429.1 408.5 L1434.7 414.1 L1441 418.9"/>
<path d="M1433.1 410.9 L1422.3 410.5 M1433 413.3 L1423.5 413.7 M1433.2 414.5 Q1434 405 1435.6 404.6 Q1437.6 404 1437.4 409 L1438 416.5 M1428.3 416.5 Q1429.5 420.5 1433 420.3 L1441 420.9 M1431 415 L1431.5 419 M1435 410 L1435.5 419 M1428 413.5 L1440 417 M1430 417.5 L1439 419.5"/>
</g>
</svg></body></html>
